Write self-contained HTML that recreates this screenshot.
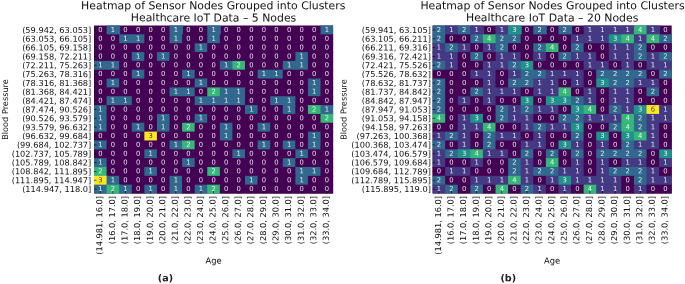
<!DOCTYPE html>
<html lang="en"><head><meta charset="utf-8"><title>Heatmap of Sensor Nodes Grouped into Clusters</title>
<style>html,body{margin:0;padding:0;background:#fff}body{width:685px;height:284px;overflow:hidden}svg{display:block;will-change:transform}text{font-family:"DejaVu Sans","Liberation Sans",sans-serif;fill:#111}.t{font-size:10.88px;text-anchor:middle}.k{font-size:8.23px}.y{text-anchor:end}.x{font-size:8.22px}.a{font-size:6.8px;text-anchor:middle;fill:#fff;fill-opacity:.86}.d{fill:#262626}.l{font-size:8.35px;text-anchor:middle}.bp{font-size:8.2px}.c{font-size:9.6px;font-weight:bold;text-anchor:middle;fill:#222}</style></head><body>
<svg width="685" height="284" viewBox="0 0 685 284">
<rect width="685" height="284" fill="#fff"/>
<g>
<text class="t" transform="translate(213.25 9.30) rotate(0.03)">Heatmap of Sensor Nodes Grouped into Clusters</text>
<text class="t" transform="translate(213.55 21.40) rotate(0.03)">Healthcare IoT Data – 5 Nodes</text>
<rect x="94.00" y="25.50" width="239.10" height="168.00" fill="#440154"/>
<rect x="106.58" y="25.50" width="13.58" height="9.84" fill="#31688e"/>
<rect x="169.51" y="25.50" width="13.58" height="9.84" fill="#31688e"/>
<rect x="207.26" y="25.50" width="13.58" height="9.84" fill="#31688e"/>
<rect x="320.52" y="25.50" width="12.58" height="9.84" fill="#31688e"/>
<rect x="94.00" y="34.34" width="26.17" height="9.84" fill="#440154"/>
<rect x="119.17" y="34.34" width="26.17" height="9.84" fill="#31688e"/>
<rect x="144.34" y="34.34" width="26.17" height="9.84" fill="#440154"/>
<rect x="169.51" y="34.34" width="13.58" height="9.84" fill="#31688e"/>
<rect x="182.09" y="34.34" width="26.17" height="9.84" fill="#440154"/>
<rect x="207.26" y="34.34" width="13.58" height="9.84" fill="#31688e"/>
<rect x="219.84" y="34.34" width="113.26" height="9.84" fill="#440154"/>
<rect x="94.00" y="43.18" width="101.67" height="9.84" fill="#440154"/>
<rect x="194.67" y="43.18" width="13.58" height="9.84" fill="#31688e"/>
<rect x="207.26" y="43.18" width="125.84" height="9.84" fill="#440154"/>
<rect x="94.00" y="52.03" width="38.75" height="9.84" fill="#440154"/>
<rect x="131.75" y="52.03" width="13.58" height="9.84" fill="#31688e"/>
<rect x="144.34" y="52.03" width="13.58" height="9.84" fill="#440154"/>
<rect x="156.92" y="52.03" width="13.58" height="9.84" fill="#31688e"/>
<rect x="169.51" y="52.03" width="126.84" height="9.84" fill="#440154"/>
<rect x="295.35" y="52.03" width="13.58" height="9.84" fill="#31688e"/>
<rect x="307.93" y="52.03" width="25.17" height="9.84" fill="#440154"/>
<rect x="94.00" y="60.87" width="26.17" height="9.84" fill="#31688e"/>
<rect x="119.17" y="60.87" width="101.67" height="9.84" fill="#440154"/>
<rect x="219.84" y="60.87" width="13.58" height="9.84" fill="#31688e"/>
<rect x="232.43" y="60.87" width="13.58" height="9.84" fill="#35b779"/>
<rect x="245.01" y="60.87" width="38.75" height="9.84" fill="#440154"/>
<rect x="282.76" y="60.87" width="26.17" height="9.84" fill="#31688e"/>
<rect x="307.93" y="60.87" width="25.17" height="9.84" fill="#440154"/>
<rect x="94.00" y="69.71" width="38.75" height="9.84" fill="#440154"/>
<rect x="131.75" y="69.71" width="13.58" height="9.84" fill="#31688e"/>
<rect x="144.34" y="69.71" width="38.75" height="9.84" fill="#440154"/>
<rect x="182.09" y="69.71" width="13.58" height="9.84" fill="#31688e"/>
<rect x="194.67" y="69.71" width="63.92" height="9.84" fill="#440154"/>
<rect x="257.59" y="69.71" width="26.17" height="9.84" fill="#31688e"/>
<rect x="282.76" y="69.71" width="50.34" height="9.84" fill="#440154"/>
<rect x="94.00" y="78.55" width="13.58" height="9.84" fill="#440154"/>
<rect x="106.58" y="78.55" width="13.58" height="9.84" fill="#31688e"/>
<rect x="119.17" y="78.55" width="76.51" height="9.84" fill="#440154"/>
<rect x="194.67" y="78.55" width="13.58" height="9.84" fill="#31688e"/>
<rect x="207.26" y="78.55" width="101.67" height="9.84" fill="#440154"/>
<rect x="307.93" y="78.55" width="13.58" height="9.84" fill="#31688e"/>
<rect x="320.52" y="78.55" width="12.58" height="9.84" fill="#440154"/>
<rect x="94.00" y="87.39" width="76.51" height="9.84" fill="#440154"/>
<rect x="169.51" y="87.39" width="26.17" height="9.84" fill="#31688e"/>
<rect x="194.67" y="87.39" width="13.58" height="9.84" fill="#440154"/>
<rect x="207.26" y="87.39" width="13.58" height="9.84" fill="#35b779"/>
<rect x="219.84" y="87.39" width="26.17" height="9.84" fill="#31688e"/>
<rect x="245.01" y="87.39" width="63.92" height="9.84" fill="#440154"/>
<rect x="307.93" y="87.39" width="13.58" height="9.84" fill="#31688e"/>
<rect x="320.52" y="87.39" width="12.58" height="9.84" fill="#440154"/>
<rect x="94.00" y="96.24" width="13.58" height="9.84" fill="#440154"/>
<rect x="106.58" y="96.24" width="26.17" height="9.84" fill="#31688e"/>
<rect x="131.75" y="96.24" width="63.92" height="9.84" fill="#440154"/>
<rect x="194.67" y="96.24" width="51.34" height="9.84" fill="#31688e"/>
<rect x="245.01" y="96.24" width="26.17" height="9.84" fill="#440154"/>
<rect x="270.18" y="96.24" width="26.17" height="9.84" fill="#31688e"/>
<rect x="295.35" y="96.24" width="37.75" height="9.84" fill="#440154"/>
<rect x="94.00" y="105.08" width="13.58" height="9.84" fill="#31688e"/>
<rect x="106.58" y="105.08" width="139.43" height="9.84" fill="#440154"/>
<rect x="245.01" y="105.08" width="13.58" height="9.84" fill="#31688e"/>
<rect x="257.59" y="105.08" width="26.17" height="9.84" fill="#440154"/>
<rect x="282.76" y="105.08" width="13.58" height="9.84" fill="#31688e"/>
<rect x="295.35" y="105.08" width="13.58" height="9.84" fill="#440154"/>
<rect x="307.93" y="105.08" width="13.58" height="9.84" fill="#35b779"/>
<rect x="320.52" y="105.08" width="12.58" height="9.84" fill="#31688e"/>
<rect x="94.00" y="113.92" width="13.58" height="9.84" fill="#31688e"/>
<rect x="106.58" y="113.92" width="51.34" height="9.84" fill="#440154"/>
<rect x="156.92" y="113.92" width="13.58" height="9.84" fill="#31688e"/>
<rect x="169.51" y="113.92" width="26.17" height="9.84" fill="#440154"/>
<rect x="194.67" y="113.92" width="13.58" height="9.84" fill="#31688e"/>
<rect x="207.26" y="113.92" width="114.26" height="9.84" fill="#440154"/>
<rect x="320.52" y="113.92" width="12.58" height="9.84" fill="#35b779"/>
<rect x="94.00" y="122.76" width="13.58" height="9.84" fill="#31688e"/>
<rect x="106.58" y="122.76" width="26.17" height="9.84" fill="#440154"/>
<rect x="131.75" y="122.76" width="13.58" height="9.84" fill="#31688e"/>
<rect x="144.34" y="122.76" width="13.58" height="9.84" fill="#440154"/>
<rect x="156.92" y="122.76" width="13.58" height="9.84" fill="#31688e"/>
<rect x="169.51" y="122.76" width="13.58" height="9.84" fill="#440154"/>
<rect x="182.09" y="122.76" width="13.58" height="9.84" fill="#35b779"/>
<rect x="194.67" y="122.76" width="26.17" height="9.84" fill="#440154"/>
<rect x="219.84" y="122.76" width="13.58" height="9.84" fill="#31688e"/>
<rect x="232.43" y="122.76" width="26.17" height="9.84" fill="#440154"/>
<rect x="257.59" y="122.76" width="13.58" height="9.84" fill="#31688e"/>
<rect x="270.18" y="122.76" width="62.92" height="9.84" fill="#440154"/>
<rect x="94.00" y="131.61" width="51.34" height="9.84" fill="#440154"/>
<rect x="144.34" y="131.61" width="13.58" height="9.84" fill="#fde725"/>
<rect x="156.92" y="131.61" width="63.92" height="9.84" fill="#440154"/>
<rect x="219.84" y="131.61" width="13.58" height="9.84" fill="#31688e"/>
<rect x="232.43" y="131.61" width="76.51" height="9.84" fill="#440154"/>
<rect x="307.93" y="131.61" width="13.58" height="9.84" fill="#31688e"/>
<rect x="320.52" y="131.61" width="12.58" height="9.84" fill="#440154"/>
<rect x="94.00" y="140.45" width="13.58" height="9.84" fill="#31688e"/>
<rect x="106.58" y="140.45" width="63.92" height="9.84" fill="#440154"/>
<rect x="169.51" y="140.45" width="13.58" height="9.84" fill="#31688e"/>
<rect x="182.09" y="140.45" width="13.58" height="9.84" fill="#35b779"/>
<rect x="194.67" y="140.45" width="63.92" height="9.84" fill="#440154"/>
<rect x="257.59" y="140.45" width="13.58" height="9.84" fill="#31688e"/>
<rect x="270.18" y="140.45" width="13.58" height="9.84" fill="#440154"/>
<rect x="282.76" y="140.45" width="13.58" height="9.84" fill="#31688e"/>
<rect x="295.35" y="140.45" width="13.58" height="9.84" fill="#440154"/>
<rect x="307.93" y="140.45" width="13.58" height="9.84" fill="#31688e"/>
<rect x="320.52" y="140.45" width="12.58" height="9.84" fill="#440154"/>
<rect x="94.00" y="149.29" width="51.34" height="9.84" fill="#440154"/>
<rect x="144.34" y="149.29" width="13.58" height="9.84" fill="#31688e"/>
<rect x="156.92" y="149.29" width="76.51" height="9.84" fill="#440154"/>
<rect x="232.43" y="149.29" width="13.58" height="9.84" fill="#31688e"/>
<rect x="245.01" y="149.29" width="51.34" height="9.84" fill="#440154"/>
<rect x="295.35" y="149.29" width="13.58" height="9.84" fill="#31688e"/>
<rect x="307.93" y="149.29" width="25.17" height="9.84" fill="#440154"/>
<rect x="94.00" y="158.13" width="13.58" height="9.84" fill="#31688e"/>
<rect x="106.58" y="158.13" width="76.51" height="9.84" fill="#440154"/>
<rect x="182.09" y="158.13" width="13.58" height="9.84" fill="#31688e"/>
<rect x="194.67" y="158.13" width="89.09" height="9.84" fill="#440154"/>
<rect x="282.76" y="158.13" width="13.58" height="9.84" fill="#31688e"/>
<rect x="295.35" y="158.13" width="37.75" height="9.84" fill="#440154"/>
<rect x="94.00" y="166.97" width="13.58" height="9.84" fill="#35b779"/>
<rect x="106.58" y="166.97" width="38.75" height="9.84" fill="#440154"/>
<rect x="144.34" y="166.97" width="13.58" height="9.84" fill="#31688e"/>
<rect x="156.92" y="166.97" width="51.34" height="9.84" fill="#440154"/>
<rect x="207.26" y="166.97" width="13.58" height="9.84" fill="#35b779"/>
<rect x="219.84" y="166.97" width="76.51" height="9.84" fill="#440154"/>
<rect x="295.35" y="166.97" width="26.17" height="9.84" fill="#31688e"/>
<rect x="320.52" y="166.97" width="12.58" height="9.84" fill="#440154"/>
<rect x="94.00" y="175.82" width="13.58" height="9.84" fill="#fde725"/>
<rect x="106.58" y="175.82" width="13.58" height="9.84" fill="#31688e"/>
<rect x="119.17" y="175.82" width="51.34" height="9.84" fill="#440154"/>
<rect x="169.51" y="175.82" width="13.58" height="9.84" fill="#31688e"/>
<rect x="182.09" y="175.82" width="63.92" height="9.84" fill="#440154"/>
<rect x="245.01" y="175.82" width="13.58" height="9.84" fill="#31688e"/>
<rect x="257.59" y="175.82" width="38.75" height="9.84" fill="#440154"/>
<rect x="295.35" y="175.82" width="13.58" height="9.84" fill="#31688e"/>
<rect x="307.93" y="175.82" width="25.17" height="9.84" fill="#440154"/>
<rect x="94.00" y="184.66" width="13.58" height="8.84" fill="#31688e"/>
<rect x="106.58" y="184.66" width="13.58" height="8.84" fill="#35b779"/>
<rect x="119.17" y="184.66" width="13.58" height="8.84" fill="#31688e"/>
<rect x="131.75" y="184.66" width="13.58" height="8.84" fill="#440154"/>
<rect x="144.34" y="184.66" width="13.58" height="8.84" fill="#31688e"/>
<rect x="156.92" y="184.66" width="13.58" height="8.84" fill="#440154"/>
<rect x="169.51" y="184.66" width="13.58" height="8.84" fill="#31688e"/>
<rect x="182.09" y="184.66" width="13.58" height="8.84" fill="#440154"/>
<rect x="194.67" y="184.66" width="13.58" height="8.84" fill="#31688e"/>
<rect x="207.26" y="184.66" width="13.58" height="8.84" fill="#35b779"/>
<rect x="219.84" y="184.66" width="113.26" height="8.84" fill="#440154"/>
<path d="M94.00 29.92h2.60M94.00 38.76h2.60M94.00 47.61h2.60M94.00 56.45h2.60M94.00 65.29h2.60M94.00 74.13h2.60M94.00 82.97h2.60M94.00 91.82h2.60M94.00 100.66h2.60M94.00 109.50h2.60M94.00 118.34h2.60M94.00 127.18h2.60M94.00 136.03h2.60M94.00 144.87h2.60M94.00 153.71h2.60M94.00 162.55h2.60M94.00 171.39h2.60M94.00 180.24h2.60M94.00 189.08h2.60M100.29 193.50v-2.60M112.88 193.50v-2.60M125.46 193.50v-2.60M138.04 193.50v-2.60M150.63 193.50v-2.60M163.21 193.50v-2.60M175.80 193.50v-2.60M188.38 193.50v-2.60M200.97 193.50v-2.60M213.55 193.50v-2.60M226.13 193.50v-2.60M238.72 193.50v-2.60M251.30 193.50v-2.60M263.89 193.50v-2.60M276.47 193.50v-2.60M289.06 193.50v-2.60M301.64 193.50v-2.60M314.22 193.50v-2.60M326.81 193.50v-2.60" stroke="#000" stroke-width="0.65" fill="none" opacity="0.90"/>
<text class="a" transform="translate(100.29 31.90) rotate(0.03)">0</text>
<text class="a" transform="translate(112.88 31.90) rotate(0.03)">1</text>
<text class="a" transform="translate(125.46 31.90) rotate(0.03)">0</text>
<text class="a" transform="translate(138.04 31.90) rotate(0.03)">0</text>
<text class="a" transform="translate(150.63 31.90) rotate(0.03)">0</text>
<text class="a" transform="translate(163.21 31.90) rotate(0.03)">0</text>
<text class="a" transform="translate(175.80 31.90) rotate(0.03)">1</text>
<text class="a" transform="translate(188.38 31.90) rotate(0.03)">0</text>
<text class="a" transform="translate(200.97 31.90) rotate(0.03)">0</text>
<text class="a" transform="translate(213.55 31.90) rotate(0.03)">1</text>
<text class="a" transform="translate(226.13 31.90) rotate(0.03)">0</text>
<text class="a" transform="translate(238.72 31.90) rotate(0.03)">0</text>
<text class="a" transform="translate(251.30 31.90) rotate(0.03)">0</text>
<text class="a" transform="translate(263.89 31.90) rotate(0.03)">0</text>
<text class="a" transform="translate(276.47 31.90) rotate(0.03)">0</text>
<text class="a" transform="translate(289.06 31.90) rotate(0.03)">0</text>
<text class="a" transform="translate(301.64 31.90) rotate(0.03)">0</text>
<text class="a" transform="translate(314.22 31.90) rotate(0.03)">0</text>
<text class="a" transform="translate(326.81 31.90) rotate(0.03)">1</text>
<text class="a" transform="translate(100.29 40.74) rotate(0.03)">0</text>
<text class="a" transform="translate(112.88 40.74) rotate(0.03)">0</text>
<text class="a" transform="translate(125.46 40.74) rotate(0.03)">1</text>
<text class="a" transform="translate(138.04 40.74) rotate(0.03)">1</text>
<text class="a" transform="translate(150.63 40.74) rotate(0.03)">0</text>
<text class="a" transform="translate(163.21 40.74) rotate(0.03)">0</text>
<text class="a" transform="translate(175.80 40.74) rotate(0.03)">1</text>
<text class="a" transform="translate(188.38 40.74) rotate(0.03)">0</text>
<text class="a" transform="translate(200.97 40.74) rotate(0.03)">0</text>
<text class="a" transform="translate(213.55 40.74) rotate(0.03)">1</text>
<text class="a" transform="translate(226.13 40.74) rotate(0.03)">0</text>
<text class="a" transform="translate(238.72 40.74) rotate(0.03)">0</text>
<text class="a" transform="translate(251.30 40.74) rotate(0.03)">0</text>
<text class="a" transform="translate(263.89 40.74) rotate(0.03)">0</text>
<text class="a" transform="translate(276.47 40.74) rotate(0.03)">0</text>
<text class="a" transform="translate(289.06 40.74) rotate(0.03)">0</text>
<text class="a" transform="translate(301.64 40.74) rotate(0.03)">0</text>
<text class="a" transform="translate(314.22 40.74) rotate(0.03)">0</text>
<text class="a" transform="translate(326.81 40.74) rotate(0.03)">0</text>
<text class="a" transform="translate(100.29 49.58) rotate(0.03)">0</text>
<text class="a" transform="translate(112.88 49.58) rotate(0.03)">0</text>
<text class="a" transform="translate(125.46 49.58) rotate(0.03)">0</text>
<text class="a" transform="translate(138.04 49.58) rotate(0.03)">0</text>
<text class="a" transform="translate(150.63 49.58) rotate(0.03)">0</text>
<text class="a" transform="translate(163.21 49.58) rotate(0.03)">0</text>
<text class="a" transform="translate(175.80 49.58) rotate(0.03)">0</text>
<text class="a" transform="translate(188.38 49.58) rotate(0.03)">0</text>
<text class="a" transform="translate(200.97 49.58) rotate(0.03)">1</text>
<text class="a" transform="translate(213.55 49.58) rotate(0.03)">0</text>
<text class="a" transform="translate(226.13 49.58) rotate(0.03)">0</text>
<text class="a" transform="translate(238.72 49.58) rotate(0.03)">0</text>
<text class="a" transform="translate(251.30 49.58) rotate(0.03)">0</text>
<text class="a" transform="translate(263.89 49.58) rotate(0.03)">0</text>
<text class="a" transform="translate(276.47 49.58) rotate(0.03)">0</text>
<text class="a" transform="translate(289.06 49.58) rotate(0.03)">0</text>
<text class="a" transform="translate(301.64 49.58) rotate(0.03)">0</text>
<text class="a" transform="translate(314.22 49.58) rotate(0.03)">0</text>
<text class="a" transform="translate(326.81 49.58) rotate(0.03)">0</text>
<text class="a" transform="translate(100.29 58.43) rotate(0.03)">0</text>
<text class="a" transform="translate(112.88 58.43) rotate(0.03)">0</text>
<text class="a" transform="translate(125.46 58.43) rotate(0.03)">0</text>
<text class="a" transform="translate(138.04 58.43) rotate(0.03)">1</text>
<text class="a" transform="translate(150.63 58.43) rotate(0.03)">0</text>
<text class="a" transform="translate(163.21 58.43) rotate(0.03)">1</text>
<text class="a" transform="translate(175.80 58.43) rotate(0.03)">0</text>
<text class="a" transform="translate(188.38 58.43) rotate(0.03)">0</text>
<text class="a" transform="translate(200.97 58.43) rotate(0.03)">0</text>
<text class="a" transform="translate(213.55 58.43) rotate(0.03)">0</text>
<text class="a" transform="translate(226.13 58.43) rotate(0.03)">0</text>
<text class="a" transform="translate(238.72 58.43) rotate(0.03)">0</text>
<text class="a" transform="translate(251.30 58.43) rotate(0.03)">0</text>
<text class="a" transform="translate(263.89 58.43) rotate(0.03)">0</text>
<text class="a" transform="translate(276.47 58.43) rotate(0.03)">0</text>
<text class="a" transform="translate(289.06 58.43) rotate(0.03)">0</text>
<text class="a" transform="translate(301.64 58.43) rotate(0.03)">1</text>
<text class="a" transform="translate(314.22 58.43) rotate(0.03)">0</text>
<text class="a" transform="translate(326.81 58.43) rotate(0.03)">0</text>
<text class="a" transform="translate(100.29 67.27) rotate(0.03)">1</text>
<text class="a" transform="translate(112.88 67.27) rotate(0.03)">1</text>
<text class="a" transform="translate(125.46 67.27) rotate(0.03)">0</text>
<text class="a" transform="translate(138.04 67.27) rotate(0.03)">0</text>
<text class="a" transform="translate(150.63 67.27) rotate(0.03)">0</text>
<text class="a" transform="translate(163.21 67.27) rotate(0.03)">0</text>
<text class="a" transform="translate(175.80 67.27) rotate(0.03)">0</text>
<text class="a" transform="translate(188.38 67.27) rotate(0.03)">0</text>
<text class="a" transform="translate(200.97 67.27) rotate(0.03)">0</text>
<text class="a" transform="translate(213.55 67.27) rotate(0.03)">0</text>
<text class="a" transform="translate(226.13 67.27) rotate(0.03)">1</text>
<text class="a" transform="translate(238.72 67.27) rotate(0.03)">2</text>
<text class="a" transform="translate(251.30 67.27) rotate(0.03)">0</text>
<text class="a" transform="translate(263.89 67.27) rotate(0.03)">0</text>
<text class="a" transform="translate(276.47 67.27) rotate(0.03)">0</text>
<text class="a" transform="translate(289.06 67.27) rotate(0.03)">1</text>
<text class="a" transform="translate(301.64 67.27) rotate(0.03)">1</text>
<text class="a" transform="translate(314.22 67.27) rotate(0.03)">0</text>
<text class="a" transform="translate(326.81 67.27) rotate(0.03)">0</text>
<text class="a" transform="translate(100.29 76.11) rotate(0.03)">0</text>
<text class="a" transform="translate(112.88 76.11) rotate(0.03)">0</text>
<text class="a" transform="translate(125.46 76.11) rotate(0.03)">0</text>
<text class="a" transform="translate(138.04 76.11) rotate(0.03)">1</text>
<text class="a" transform="translate(150.63 76.11) rotate(0.03)">0</text>
<text class="a" transform="translate(163.21 76.11) rotate(0.03)">0</text>
<text class="a" transform="translate(175.80 76.11) rotate(0.03)">0</text>
<text class="a" transform="translate(188.38 76.11) rotate(0.03)">1</text>
<text class="a" transform="translate(200.97 76.11) rotate(0.03)">0</text>
<text class="a" transform="translate(213.55 76.11) rotate(0.03)">0</text>
<text class="a" transform="translate(226.13 76.11) rotate(0.03)">0</text>
<text class="a" transform="translate(238.72 76.11) rotate(0.03)">0</text>
<text class="a" transform="translate(251.30 76.11) rotate(0.03)">0</text>
<text class="a" transform="translate(263.89 76.11) rotate(0.03)">1</text>
<text class="a" transform="translate(276.47 76.11) rotate(0.03)">1</text>
<text class="a" transform="translate(289.06 76.11) rotate(0.03)">0</text>
<text class="a" transform="translate(301.64 76.11) rotate(0.03)">0</text>
<text class="a" transform="translate(314.22 76.11) rotate(0.03)">0</text>
<text class="a" transform="translate(326.81 76.11) rotate(0.03)">0</text>
<text class="a" transform="translate(100.29 84.95) rotate(0.03)">0</text>
<text class="a" transform="translate(112.88 84.95) rotate(0.03)">1</text>
<text class="a" transform="translate(125.46 84.95) rotate(0.03)">0</text>
<text class="a" transform="translate(138.04 84.95) rotate(0.03)">0</text>
<text class="a" transform="translate(150.63 84.95) rotate(0.03)">0</text>
<text class="a" transform="translate(163.21 84.95) rotate(0.03)">0</text>
<text class="a" transform="translate(175.80 84.95) rotate(0.03)">0</text>
<text class="a" transform="translate(188.38 84.95) rotate(0.03)">0</text>
<text class="a" transform="translate(200.97 84.95) rotate(0.03)">1</text>
<text class="a" transform="translate(213.55 84.95) rotate(0.03)">0</text>
<text class="a" transform="translate(226.13 84.95) rotate(0.03)">0</text>
<text class="a" transform="translate(238.72 84.95) rotate(0.03)">0</text>
<text class="a" transform="translate(251.30 84.95) rotate(0.03)">0</text>
<text class="a" transform="translate(263.89 84.95) rotate(0.03)">0</text>
<text class="a" transform="translate(276.47 84.95) rotate(0.03)">0</text>
<text class="a" transform="translate(289.06 84.95) rotate(0.03)">0</text>
<text class="a" transform="translate(301.64 84.95) rotate(0.03)">0</text>
<text class="a" transform="translate(314.22 84.95) rotate(0.03)">1</text>
<text class="a" transform="translate(326.81 84.95) rotate(0.03)">0</text>
<text class="a" transform="translate(100.29 93.79) rotate(0.03)">0</text>
<text class="a" transform="translate(112.88 93.79) rotate(0.03)">0</text>
<text class="a" transform="translate(125.46 93.79) rotate(0.03)">0</text>
<text class="a" transform="translate(138.04 93.79) rotate(0.03)">0</text>
<text class="a" transform="translate(150.63 93.79) rotate(0.03)">0</text>
<text class="a" transform="translate(163.21 93.79) rotate(0.03)">0</text>
<text class="a" transform="translate(175.80 93.79) rotate(0.03)">1</text>
<text class="a" transform="translate(188.38 93.79) rotate(0.03)">1</text>
<text class="a" transform="translate(200.97 93.79) rotate(0.03)">0</text>
<text class="a" transform="translate(213.55 93.79) rotate(0.03)">2</text>
<text class="a" transform="translate(226.13 93.79) rotate(0.03)">1</text>
<text class="a" transform="translate(238.72 93.79) rotate(0.03)">1</text>
<text class="a" transform="translate(251.30 93.79) rotate(0.03)">0</text>
<text class="a" transform="translate(263.89 93.79) rotate(0.03)">0</text>
<text class="a" transform="translate(276.47 93.79) rotate(0.03)">0</text>
<text class="a" transform="translate(289.06 93.79) rotate(0.03)">0</text>
<text class="a" transform="translate(301.64 93.79) rotate(0.03)">0</text>
<text class="a" transform="translate(314.22 93.79) rotate(0.03)">1</text>
<text class="a" transform="translate(326.81 93.79) rotate(0.03)">0</text>
<text class="a" transform="translate(100.29 102.64) rotate(0.03)">0</text>
<text class="a" transform="translate(112.88 102.64) rotate(0.03)">1</text>
<text class="a" transform="translate(125.46 102.64) rotate(0.03)">1</text>
<text class="a" transform="translate(138.04 102.64) rotate(0.03)">0</text>
<text class="a" transform="translate(150.63 102.64) rotate(0.03)">0</text>
<text class="a" transform="translate(163.21 102.64) rotate(0.03)">0</text>
<text class="a" transform="translate(175.80 102.64) rotate(0.03)">0</text>
<text class="a" transform="translate(188.38 102.64) rotate(0.03)">0</text>
<text class="a" transform="translate(200.97 102.64) rotate(0.03)">1</text>
<text class="a" transform="translate(213.55 102.64) rotate(0.03)">1</text>
<text class="a" transform="translate(226.13 102.64) rotate(0.03)">1</text>
<text class="a" transform="translate(238.72 102.64) rotate(0.03)">1</text>
<text class="a" transform="translate(251.30 102.64) rotate(0.03)">0</text>
<text class="a" transform="translate(263.89 102.64) rotate(0.03)">0</text>
<text class="a" transform="translate(276.47 102.64) rotate(0.03)">1</text>
<text class="a" transform="translate(289.06 102.64) rotate(0.03)">1</text>
<text class="a" transform="translate(301.64 102.64) rotate(0.03)">0</text>
<text class="a" transform="translate(314.22 102.64) rotate(0.03)">0</text>
<text class="a" transform="translate(326.81 102.64) rotate(0.03)">0</text>
<text class="a" transform="translate(100.29 111.48) rotate(0.03)">1</text>
<text class="a" transform="translate(112.88 111.48) rotate(0.03)">0</text>
<text class="a" transform="translate(125.46 111.48) rotate(0.03)">0</text>
<text class="a" transform="translate(138.04 111.48) rotate(0.03)">0</text>
<text class="a" transform="translate(150.63 111.48) rotate(0.03)">0</text>
<text class="a" transform="translate(163.21 111.48) rotate(0.03)">0</text>
<text class="a" transform="translate(175.80 111.48) rotate(0.03)">0</text>
<text class="a" transform="translate(188.38 111.48) rotate(0.03)">0</text>
<text class="a" transform="translate(200.97 111.48) rotate(0.03)">0</text>
<text class="a" transform="translate(213.55 111.48) rotate(0.03)">0</text>
<text class="a" transform="translate(226.13 111.48) rotate(0.03)">0</text>
<text class="a" transform="translate(238.72 111.48) rotate(0.03)">0</text>
<text class="a" transform="translate(251.30 111.48) rotate(0.03)">1</text>
<text class="a" transform="translate(263.89 111.48) rotate(0.03)">0</text>
<text class="a" transform="translate(276.47 111.48) rotate(0.03)">0</text>
<text class="a" transform="translate(289.06 111.48) rotate(0.03)">1</text>
<text class="a" transform="translate(301.64 111.48) rotate(0.03)">0</text>
<text class="a" transform="translate(314.22 111.48) rotate(0.03)">2</text>
<text class="a" transform="translate(326.81 111.48) rotate(0.03)">1</text>
<text class="a" transform="translate(100.29 120.32) rotate(0.03)">1</text>
<text class="a" transform="translate(112.88 120.32) rotate(0.03)">0</text>
<text class="a" transform="translate(125.46 120.32) rotate(0.03)">0</text>
<text class="a" transform="translate(138.04 120.32) rotate(0.03)">0</text>
<text class="a" transform="translate(150.63 120.32) rotate(0.03)">0</text>
<text class="a" transform="translate(163.21 120.32) rotate(0.03)">1</text>
<text class="a" transform="translate(175.80 120.32) rotate(0.03)">0</text>
<text class="a" transform="translate(188.38 120.32) rotate(0.03)">0</text>
<text class="a" transform="translate(200.97 120.32) rotate(0.03)">1</text>
<text class="a" transform="translate(213.55 120.32) rotate(0.03)">0</text>
<text class="a" transform="translate(226.13 120.32) rotate(0.03)">0</text>
<text class="a" transform="translate(238.72 120.32) rotate(0.03)">0</text>
<text class="a" transform="translate(251.30 120.32) rotate(0.03)">0</text>
<text class="a" transform="translate(263.89 120.32) rotate(0.03)">0</text>
<text class="a" transform="translate(276.47 120.32) rotate(0.03)">0</text>
<text class="a" transform="translate(289.06 120.32) rotate(0.03)">0</text>
<text class="a" transform="translate(301.64 120.32) rotate(0.03)">0</text>
<text class="a" transform="translate(314.22 120.32) rotate(0.03)">0</text>
<text class="a" transform="translate(326.81 120.32) rotate(0.03)">2</text>
<text class="a" transform="translate(100.29 129.16) rotate(0.03)">1</text>
<text class="a" transform="translate(112.88 129.16) rotate(0.03)">0</text>
<text class="a" transform="translate(125.46 129.16) rotate(0.03)">0</text>
<text class="a" transform="translate(138.04 129.16) rotate(0.03)">1</text>
<text class="a" transform="translate(150.63 129.16) rotate(0.03)">0</text>
<text class="a" transform="translate(163.21 129.16) rotate(0.03)">1</text>
<text class="a" transform="translate(175.80 129.16) rotate(0.03)">0</text>
<text class="a" transform="translate(188.38 129.16) rotate(0.03)">2</text>
<text class="a" transform="translate(200.97 129.16) rotate(0.03)">0</text>
<text class="a" transform="translate(213.55 129.16) rotate(0.03)">0</text>
<text class="a" transform="translate(226.13 129.16) rotate(0.03)">1</text>
<text class="a" transform="translate(238.72 129.16) rotate(0.03)">0</text>
<text class="a" transform="translate(251.30 129.16) rotate(0.03)">0</text>
<text class="a" transform="translate(263.89 129.16) rotate(0.03)">1</text>
<text class="a" transform="translate(276.47 129.16) rotate(0.03)">0</text>
<text class="a" transform="translate(289.06 129.16) rotate(0.03)">0</text>
<text class="a" transform="translate(301.64 129.16) rotate(0.03)">0</text>
<text class="a" transform="translate(314.22 129.16) rotate(0.03)">0</text>
<text class="a" transform="translate(326.81 129.16) rotate(0.03)">0</text>
<text class="a" transform="translate(100.29 138.00) rotate(0.03)">0</text>
<text class="a" transform="translate(112.88 138.00) rotate(0.03)">0</text>
<text class="a" transform="translate(125.46 138.00) rotate(0.03)">0</text>
<text class="a" transform="translate(138.04 138.00) rotate(0.03)">0</text>
<text class="a d" transform="translate(150.63 138.00) rotate(0.03)">3</text>
<text class="a" transform="translate(163.21 138.00) rotate(0.03)">0</text>
<text class="a" transform="translate(175.80 138.00) rotate(0.03)">0</text>
<text class="a" transform="translate(188.38 138.00) rotate(0.03)">0</text>
<text class="a" transform="translate(200.97 138.00) rotate(0.03)">0</text>
<text class="a" transform="translate(213.55 138.00) rotate(0.03)">0</text>
<text class="a" transform="translate(226.13 138.00) rotate(0.03)">1</text>
<text class="a" transform="translate(238.72 138.00) rotate(0.03)">0</text>
<text class="a" transform="translate(251.30 138.00) rotate(0.03)">0</text>
<text class="a" transform="translate(263.89 138.00) rotate(0.03)">0</text>
<text class="a" transform="translate(276.47 138.00) rotate(0.03)">0</text>
<text class="a" transform="translate(289.06 138.00) rotate(0.03)">0</text>
<text class="a" transform="translate(301.64 138.00) rotate(0.03)">0</text>
<text class="a" transform="translate(314.22 138.00) rotate(0.03)">1</text>
<text class="a" transform="translate(326.81 138.00) rotate(0.03)">0</text>
<text class="a" transform="translate(100.29 146.85) rotate(0.03)">1</text>
<text class="a" transform="translate(112.88 146.85) rotate(0.03)">0</text>
<text class="a" transform="translate(125.46 146.85) rotate(0.03)">0</text>
<text class="a" transform="translate(138.04 146.85) rotate(0.03)">0</text>
<text class="a" transform="translate(150.63 146.85) rotate(0.03)">0</text>
<text class="a" transform="translate(163.21 146.85) rotate(0.03)">0</text>
<text class="a" transform="translate(175.80 146.85) rotate(0.03)">1</text>
<text class="a" transform="translate(188.38 146.85) rotate(0.03)">2</text>
<text class="a" transform="translate(200.97 146.85) rotate(0.03)">0</text>
<text class="a" transform="translate(213.55 146.85) rotate(0.03)">0</text>
<text class="a" transform="translate(226.13 146.85) rotate(0.03)">0</text>
<text class="a" transform="translate(238.72 146.85) rotate(0.03)">0</text>
<text class="a" transform="translate(251.30 146.85) rotate(0.03)">0</text>
<text class="a" transform="translate(263.89 146.85) rotate(0.03)">1</text>
<text class="a" transform="translate(276.47 146.85) rotate(0.03)">0</text>
<text class="a" transform="translate(289.06 146.85) rotate(0.03)">1</text>
<text class="a" transform="translate(301.64 146.85) rotate(0.03)">0</text>
<text class="a" transform="translate(314.22 146.85) rotate(0.03)">1</text>
<text class="a" transform="translate(326.81 146.85) rotate(0.03)">0</text>
<text class="a" transform="translate(100.29 155.69) rotate(0.03)">0</text>
<text class="a" transform="translate(112.88 155.69) rotate(0.03)">0</text>
<text class="a" transform="translate(125.46 155.69) rotate(0.03)">0</text>
<text class="a" transform="translate(138.04 155.69) rotate(0.03)">0</text>
<text class="a" transform="translate(150.63 155.69) rotate(0.03)">1</text>
<text class="a" transform="translate(163.21 155.69) rotate(0.03)">0</text>
<text class="a" transform="translate(175.80 155.69) rotate(0.03)">0</text>
<text class="a" transform="translate(188.38 155.69) rotate(0.03)">0</text>
<text class="a" transform="translate(200.97 155.69) rotate(0.03)">0</text>
<text class="a" transform="translate(213.55 155.69) rotate(0.03)">0</text>
<text class="a" transform="translate(226.13 155.69) rotate(0.03)">0</text>
<text class="a" transform="translate(238.72 155.69) rotate(0.03)">1</text>
<text class="a" transform="translate(251.30 155.69) rotate(0.03)">0</text>
<text class="a" transform="translate(263.89 155.69) rotate(0.03)">0</text>
<text class="a" transform="translate(276.47 155.69) rotate(0.03)">0</text>
<text class="a" transform="translate(289.06 155.69) rotate(0.03)">0</text>
<text class="a" transform="translate(301.64 155.69) rotate(0.03)">1</text>
<text class="a" transform="translate(314.22 155.69) rotate(0.03)">0</text>
<text class="a" transform="translate(326.81 155.69) rotate(0.03)">0</text>
<text class="a" transform="translate(100.29 164.53) rotate(0.03)">1</text>
<text class="a" transform="translate(112.88 164.53) rotate(0.03)">0</text>
<text class="a" transform="translate(125.46 164.53) rotate(0.03)">0</text>
<text class="a" transform="translate(138.04 164.53) rotate(0.03)">0</text>
<text class="a" transform="translate(150.63 164.53) rotate(0.03)">0</text>
<text class="a" transform="translate(163.21 164.53) rotate(0.03)">0</text>
<text class="a" transform="translate(175.80 164.53) rotate(0.03)">0</text>
<text class="a" transform="translate(188.38 164.53) rotate(0.03)">1</text>
<text class="a" transform="translate(200.97 164.53) rotate(0.03)">0</text>
<text class="a" transform="translate(213.55 164.53) rotate(0.03)">0</text>
<text class="a" transform="translate(226.13 164.53) rotate(0.03)">0</text>
<text class="a" transform="translate(238.72 164.53) rotate(0.03)">0</text>
<text class="a" transform="translate(251.30 164.53) rotate(0.03)">0</text>
<text class="a" transform="translate(263.89 164.53) rotate(0.03)">0</text>
<text class="a" transform="translate(276.47 164.53) rotate(0.03)">0</text>
<text class="a" transform="translate(289.06 164.53) rotate(0.03)">1</text>
<text class="a" transform="translate(301.64 164.53) rotate(0.03)">0</text>
<text class="a" transform="translate(314.22 164.53) rotate(0.03)">0</text>
<text class="a" transform="translate(326.81 164.53) rotate(0.03)">0</text>
<text class="a" transform="translate(100.29 173.37) rotate(0.03)">2</text>
<text class="a" transform="translate(112.88 173.37) rotate(0.03)">0</text>
<text class="a" transform="translate(125.46 173.37) rotate(0.03)">0</text>
<text class="a" transform="translate(138.04 173.37) rotate(0.03)">0</text>
<text class="a" transform="translate(150.63 173.37) rotate(0.03)">1</text>
<text class="a" transform="translate(163.21 173.37) rotate(0.03)">0</text>
<text class="a" transform="translate(175.80 173.37) rotate(0.03)">0</text>
<text class="a" transform="translate(188.38 173.37) rotate(0.03)">0</text>
<text class="a" transform="translate(200.97 173.37) rotate(0.03)">0</text>
<text class="a" transform="translate(213.55 173.37) rotate(0.03)">2</text>
<text class="a" transform="translate(226.13 173.37) rotate(0.03)">0</text>
<text class="a" transform="translate(238.72 173.37) rotate(0.03)">0</text>
<text class="a" transform="translate(251.30 173.37) rotate(0.03)">0</text>
<text class="a" transform="translate(263.89 173.37) rotate(0.03)">0</text>
<text class="a" transform="translate(276.47 173.37) rotate(0.03)">0</text>
<text class="a" transform="translate(289.06 173.37) rotate(0.03)">0</text>
<text class="a" transform="translate(301.64 173.37) rotate(0.03)">1</text>
<text class="a" transform="translate(314.22 173.37) rotate(0.03)">1</text>
<text class="a" transform="translate(326.81 173.37) rotate(0.03)">0</text>
<text class="a d" transform="translate(100.29 182.22) rotate(0.03)">3</text>
<text class="a" transform="translate(112.88 182.22) rotate(0.03)">1</text>
<text class="a" transform="translate(125.46 182.22) rotate(0.03)">0</text>
<text class="a" transform="translate(138.04 182.22) rotate(0.03)">0</text>
<text class="a" transform="translate(150.63 182.22) rotate(0.03)">0</text>
<text class="a" transform="translate(163.21 182.22) rotate(0.03)">0</text>
<text class="a" transform="translate(175.80 182.22) rotate(0.03)">1</text>
<text class="a" transform="translate(188.38 182.22) rotate(0.03)">0</text>
<text class="a" transform="translate(200.97 182.22) rotate(0.03)">0</text>
<text class="a" transform="translate(213.55 182.22) rotate(0.03)">0</text>
<text class="a" transform="translate(226.13 182.22) rotate(0.03)">0</text>
<text class="a" transform="translate(238.72 182.22) rotate(0.03)">0</text>
<text class="a" transform="translate(251.30 182.22) rotate(0.03)">1</text>
<text class="a" transform="translate(263.89 182.22) rotate(0.03)">0</text>
<text class="a" transform="translate(276.47 182.22) rotate(0.03)">0</text>
<text class="a" transform="translate(289.06 182.22) rotate(0.03)">0</text>
<text class="a" transform="translate(301.64 182.22) rotate(0.03)">1</text>
<text class="a" transform="translate(314.22 182.22) rotate(0.03)">0</text>
<text class="a" transform="translate(326.81 182.22) rotate(0.03)">0</text>
<text class="a" transform="translate(100.29 191.06) rotate(0.03)">1</text>
<text class="a" transform="translate(112.88 191.06) rotate(0.03)">2</text>
<text class="a" transform="translate(125.46 191.06) rotate(0.03)">1</text>
<text class="a" transform="translate(138.04 191.06) rotate(0.03)">0</text>
<text class="a" transform="translate(150.63 191.06) rotate(0.03)">1</text>
<text class="a" transform="translate(163.21 191.06) rotate(0.03)">0</text>
<text class="a" transform="translate(175.80 191.06) rotate(0.03)">1</text>
<text class="a" transform="translate(188.38 191.06) rotate(0.03)">0</text>
<text class="a" transform="translate(200.97 191.06) rotate(0.03)">1</text>
<text class="a" transform="translate(213.55 191.06) rotate(0.03)">2</text>
<text class="a" transform="translate(226.13 191.06) rotate(0.03)">0</text>
<text class="a" transform="translate(238.72 191.06) rotate(0.03)">0</text>
<text class="a" transform="translate(251.30 191.06) rotate(0.03)">0</text>
<text class="a" transform="translate(263.89 191.06) rotate(0.03)">0</text>
<text class="a" transform="translate(276.47 191.06) rotate(0.03)">0</text>
<text class="a" transform="translate(289.06 191.06) rotate(0.03)">0</text>
<text class="a" transform="translate(301.64 191.06) rotate(0.03)">0</text>
<text class="a" transform="translate(314.22 191.06) rotate(0.03)">0</text>
<text class="a" transform="translate(326.81 191.06) rotate(0.03)">0</text>
<text class="k y" transform="translate(91.30 32.92) rotate(0.03)">(59.942, 63.053]</text>
<text class="k y" transform="translate(91.30 41.76) rotate(0.03)">(63.053, 66.105]</text>
<text class="k y" transform="translate(91.30 50.61) rotate(0.03)">(66.105, 69.158]</text>
<text class="k y" transform="translate(91.30 59.45) rotate(0.03)">(69.158, 72.211]</text>
<text class="k y" transform="translate(91.30 68.29) rotate(0.03)">(72.211, 75.263]</text>
<text class="k y" transform="translate(91.30 77.13) rotate(0.03)">(75.263, 78.316]</text>
<text class="k y" transform="translate(91.30 85.97) rotate(0.03)">(78.316, 81.368]</text>
<text class="k y" transform="translate(91.30 94.82) rotate(0.03)">(81.368, 84.421]</text>
<text class="k y" transform="translate(91.30 103.66) rotate(0.03)">(84.421, 87.474]</text>
<text class="k y" transform="translate(91.30 112.50) rotate(0.03)">(87.474, 90.526]</text>
<text class="k y" transform="translate(91.30 121.34) rotate(0.03)">(90.526, 93.579]</text>
<text class="k y" transform="translate(91.30 130.18) rotate(0.03)">(93.579, 96.632]</text>
<text class="k y" transform="translate(91.30 139.03) rotate(0.03)">(96.632, 99.684]</text>
<text class="k y" transform="translate(91.30 147.87) rotate(0.03)">(99.684, 102.737]</text>
<text class="k y" transform="translate(91.30 156.71) rotate(0.03)">(102.737, 105.789]</text>
<text class="k y" transform="translate(91.30 165.55) rotate(0.03)">(105.789, 108.842]</text>
<text class="k y" transform="translate(91.30 174.39) rotate(0.03)">(108.842, 111.895]</text>
<text class="k y" transform="translate(91.30 183.24) rotate(0.03)">(111.895, 114.947]</text>
<text class="k y" transform="translate(91.30 192.08) rotate(0.03)">(114.947, 118.0]</text>
<text class="k y x" transform="translate(102.34 196.00) rotate(-89.97)">(14.981, 16.0]</text>
<text class="k y x" transform="translate(114.92 196.00) rotate(-89.97)">(16.0, 17.0]</text>
<text class="k y x" transform="translate(127.51 196.00) rotate(-89.97)">(17.0, 18.0]</text>
<text class="k y x" transform="translate(140.09 196.00) rotate(-89.97)">(18.0, 19.0]</text>
<text class="k y x" transform="translate(152.68 196.00) rotate(-89.97)">(19.0, 20.0]</text>
<text class="k y x" transform="translate(165.26 196.00) rotate(-89.97)">(20.0, 21.0]</text>
<text class="k y x" transform="translate(177.84 196.00) rotate(-89.97)">(21.0, 22.0]</text>
<text class="k y x" transform="translate(190.43 196.00) rotate(-89.97)">(22.0, 23.0]</text>
<text class="k y x" transform="translate(203.01 196.00) rotate(-89.97)">(23.0, 24.0]</text>
<text class="k y x" transform="translate(215.60 196.00) rotate(-89.97)">(24.0, 25.0]</text>
<text class="k y x" transform="translate(228.18 196.00) rotate(-89.97)">(25.0, 26.0]</text>
<text class="k y x" transform="translate(240.76 196.00) rotate(-89.97)">(26.0, 27.0]</text>
<text class="k y x" transform="translate(253.35 196.00) rotate(-89.97)">(27.0, 28.0]</text>
<text class="k y x" transform="translate(265.93 196.00) rotate(-89.97)">(28.0, 29.0]</text>
<text class="k y x" transform="translate(278.52 196.00) rotate(-89.97)">(29.0, 30.0]</text>
<text class="k y x" transform="translate(291.10 196.00) rotate(-89.97)">(30.0, 31.0]</text>
<text class="k y x" transform="translate(303.69 196.00) rotate(-89.97)">(31.0, 32.0]</text>
<text class="k y x" transform="translate(316.27 196.00) rotate(-89.97)">(32.0, 33.0]</text>
<text class="k y x" transform="translate(328.85 196.00) rotate(-89.97)">(33.0, 34.0]</text>
<text class="l" transform="translate(213.55 263.60) rotate(0.03)">Age</text>
<text class="l bp" transform="translate(7.90 109.50) rotate(-89.97)">Blood Pressure</text>
<text class="c" transform="translate(165.40 281.30) rotate(0.03)">(a)</text>
</g>
<g>
<text class="t" transform="translate(552.55 9.30) rotate(0.03)">Heatmap of Sensor Nodes Grouped into Clusters</text>
<text class="t" transform="translate(552.15 21.40) rotate(0.03)">Healthcare IoT Data – 20 Nodes</text>
<rect x="432.60" y="25.50" width="239.10" height="168.00" fill="#440154"/>
<rect x="432.60" y="25.50" width="13.58" height="9.84" fill="#31688e"/>
<rect x="445.18" y="25.50" width="13.58" height="9.84" fill="#443983"/>
<rect x="457.77" y="25.50" width="13.58" height="9.84" fill="#31688e"/>
<rect x="470.35" y="25.50" width="13.58" height="9.84" fill="#443983"/>
<rect x="495.52" y="25.50" width="13.58" height="9.84" fill="#443983"/>
<rect x="508.11" y="25.50" width="13.58" height="9.84" fill="#21918c"/>
<rect x="533.27" y="25.50" width="13.58" height="9.84" fill="#31688e"/>
<rect x="558.44" y="25.50" width="13.58" height="9.84" fill="#31688e"/>
<rect x="583.61" y="25.50" width="51.34" height="9.84" fill="#443983"/>
<rect x="633.95" y="25.50" width="13.58" height="9.84" fill="#35b779"/>
<rect x="646.53" y="25.50" width="13.58" height="9.84" fill="#443983"/>
<rect x="432.60" y="34.34" width="13.58" height="9.84" fill="#31688e"/>
<rect x="445.18" y="34.34" width="26.17" height="9.84" fill="#440154"/>
<rect x="470.35" y="34.34" width="13.58" height="9.84" fill="#31688e"/>
<rect x="482.94" y="34.34" width="13.58" height="9.84" fill="#35b779"/>
<rect x="495.52" y="34.34" width="26.17" height="9.84" fill="#31688e"/>
<rect x="520.69" y="34.34" width="51.34" height="9.84" fill="#440154"/>
<rect x="571.03" y="34.34" width="38.75" height="9.84" fill="#443983"/>
<rect x="608.78" y="34.34" width="13.58" height="9.84" fill="#21918c"/>
<rect x="621.36" y="34.34" width="13.58" height="9.84" fill="#35b779"/>
<rect x="633.95" y="34.34" width="13.58" height="9.84" fill="#443983"/>
<rect x="646.53" y="34.34" width="13.58" height="9.84" fill="#35b779"/>
<rect x="659.12" y="34.34" width="12.58" height="9.84" fill="#31688e"/>
<rect x="432.60" y="43.18" width="13.58" height="9.84" fill="#443983"/>
<rect x="445.18" y="43.18" width="13.58" height="9.84" fill="#31688e"/>
<rect x="457.77" y="43.18" width="13.58" height="9.84" fill="#443983"/>
<rect x="470.35" y="43.18" width="13.58" height="9.84" fill="#440154"/>
<rect x="482.94" y="43.18" width="13.58" height="9.84" fill="#443983"/>
<rect x="495.52" y="43.18" width="13.58" height="9.84" fill="#31688e"/>
<rect x="508.11" y="43.18" width="26.17" height="9.84" fill="#440154"/>
<rect x="533.27" y="43.18" width="13.58" height="9.84" fill="#31688e"/>
<rect x="545.86" y="43.18" width="13.58" height="9.84" fill="#35b779"/>
<rect x="558.44" y="43.18" width="13.58" height="9.84" fill="#440154"/>
<rect x="571.03" y="43.18" width="13.58" height="9.84" fill="#31688e"/>
<rect x="583.61" y="43.18" width="26.17" height="9.84" fill="#440154"/>
<rect x="608.78" y="43.18" width="26.17" height="9.84" fill="#443983"/>
<rect x="633.95" y="43.18" width="13.58" height="9.84" fill="#31688e"/>
<rect x="646.53" y="43.18" width="25.17" height="9.84" fill="#440154"/>
<rect x="432.60" y="52.03" width="26.17" height="9.84" fill="#443983"/>
<rect x="457.77" y="52.03" width="13.58" height="9.84" fill="#440154"/>
<rect x="470.35" y="52.03" width="13.58" height="9.84" fill="#31688e"/>
<rect x="482.94" y="52.03" width="13.58" height="9.84" fill="#440154"/>
<rect x="495.52" y="52.03" width="26.17" height="9.84" fill="#443983"/>
<rect x="520.69" y="52.03" width="13.58" height="9.84" fill="#440154"/>
<rect x="533.27" y="52.03" width="13.58" height="9.84" fill="#443983"/>
<rect x="545.86" y="52.03" width="13.58" height="9.84" fill="#440154"/>
<rect x="558.44" y="52.03" width="13.58" height="9.84" fill="#31688e"/>
<rect x="571.03" y="52.03" width="26.17" height="9.84" fill="#443983"/>
<rect x="596.19" y="52.03" width="13.58" height="9.84" fill="#440154"/>
<rect x="608.78" y="52.03" width="26.17" height="9.84" fill="#443983"/>
<rect x="633.95" y="52.03" width="13.58" height="9.84" fill="#31688e"/>
<rect x="646.53" y="52.03" width="13.58" height="9.84" fill="#443983"/>
<rect x="659.12" y="52.03" width="12.58" height="9.84" fill="#31688e"/>
<rect x="432.60" y="60.87" width="13.58" height="9.84" fill="#31688e"/>
<rect x="445.18" y="60.87" width="13.58" height="9.84" fill="#443983"/>
<rect x="457.77" y="60.87" width="26.17" height="9.84" fill="#440154"/>
<rect x="482.94" y="60.87" width="26.17" height="9.84" fill="#443983"/>
<rect x="508.11" y="60.87" width="13.58" height="9.84" fill="#31688e"/>
<rect x="520.69" y="60.87" width="13.58" height="9.84" fill="#21918c"/>
<rect x="533.27" y="60.87" width="51.34" height="9.84" fill="#440154"/>
<rect x="583.61" y="60.87" width="26.17" height="9.84" fill="#443983"/>
<rect x="608.78" y="60.87" width="13.58" height="9.84" fill="#440154"/>
<rect x="621.36" y="60.87" width="13.58" height="9.84" fill="#443983"/>
<rect x="633.95" y="60.87" width="13.58" height="9.84" fill="#440154"/>
<rect x="646.53" y="60.87" width="25.17" height="9.84" fill="#443983"/>
<rect x="432.60" y="69.71" width="38.75" height="9.84" fill="#440154"/>
<rect x="470.35" y="69.71" width="26.17" height="9.84" fill="#443983"/>
<rect x="495.52" y="69.71" width="13.58" height="9.84" fill="#440154"/>
<rect x="508.11" y="69.71" width="13.58" height="9.84" fill="#443983"/>
<rect x="520.69" y="69.71" width="26.17" height="9.84" fill="#31688e"/>
<rect x="545.86" y="69.71" width="38.75" height="9.84" fill="#443983"/>
<rect x="583.61" y="69.71" width="13.58" height="9.84" fill="#440154"/>
<rect x="596.19" y="69.71" width="51.34" height="9.84" fill="#31688e"/>
<rect x="646.53" y="69.71" width="13.58" height="9.84" fill="#440154"/>
<rect x="659.12" y="69.71" width="12.58" height="9.84" fill="#31688e"/>
<rect x="432.60" y="78.55" width="13.58" height="9.84" fill="#31688e"/>
<rect x="445.18" y="78.55" width="38.75" height="9.84" fill="#440154"/>
<rect x="482.94" y="78.55" width="13.58" height="9.84" fill="#443983"/>
<rect x="495.52" y="78.55" width="13.58" height="9.84" fill="#440154"/>
<rect x="508.11" y="78.55" width="26.17" height="9.84" fill="#31688e"/>
<rect x="533.27" y="78.55" width="26.17" height="9.84" fill="#443983"/>
<rect x="558.44" y="78.55" width="13.58" height="9.84" fill="#440154"/>
<rect x="571.03" y="78.55" width="13.58" height="9.84" fill="#443983"/>
<rect x="583.61" y="78.55" width="13.58" height="9.84" fill="#440154"/>
<rect x="596.19" y="78.55" width="13.58" height="9.84" fill="#21918c"/>
<rect x="608.78" y="78.55" width="26.17" height="9.84" fill="#31688e"/>
<rect x="633.95" y="78.55" width="26.17" height="9.84" fill="#443983"/>
<rect x="659.12" y="78.55" width="12.58" height="9.84" fill="#440154"/>
<rect x="432.60" y="87.39" width="13.58" height="9.84" fill="#31688e"/>
<rect x="445.18" y="87.39" width="26.17" height="9.84" fill="#440154"/>
<rect x="470.35" y="87.39" width="13.58" height="9.84" fill="#31688e"/>
<rect x="482.94" y="87.39" width="38.75" height="9.84" fill="#443983"/>
<rect x="520.69" y="87.39" width="13.58" height="9.84" fill="#440154"/>
<rect x="533.27" y="87.39" width="26.17" height="9.84" fill="#443983"/>
<rect x="558.44" y="87.39" width="13.58" height="9.84" fill="#35b779"/>
<rect x="571.03" y="87.39" width="13.58" height="9.84" fill="#440154"/>
<rect x="583.61" y="87.39" width="13.58" height="9.84" fill="#443983"/>
<rect x="596.19" y="87.39" width="13.58" height="9.84" fill="#440154"/>
<rect x="608.78" y="87.39" width="26.17" height="9.84" fill="#443983"/>
<rect x="633.95" y="87.39" width="13.58" height="9.84" fill="#440154"/>
<rect x="646.53" y="87.39" width="13.58" height="9.84" fill="#31688e"/>
<rect x="659.12" y="87.39" width="12.58" height="9.84" fill="#440154"/>
<rect x="432.60" y="96.24" width="13.58" height="9.84" fill="#31688e"/>
<rect x="445.18" y="96.24" width="13.58" height="9.84" fill="#440154"/>
<rect x="457.77" y="96.24" width="13.58" height="9.84" fill="#443983"/>
<rect x="470.35" y="96.24" width="13.58" height="9.84" fill="#440154"/>
<rect x="482.94" y="96.24" width="13.58" height="9.84" fill="#443983"/>
<rect x="495.52" y="96.24" width="26.17" height="9.84" fill="#440154"/>
<rect x="520.69" y="96.24" width="13.58" height="9.84" fill="#21918c"/>
<rect x="533.27" y="96.24" width="13.58" height="9.84" fill="#440154"/>
<rect x="545.86" y="96.24" width="26.17" height="9.84" fill="#21918c"/>
<rect x="571.03" y="96.24" width="13.58" height="9.84" fill="#31688e"/>
<rect x="583.61" y="96.24" width="13.58" height="9.84" fill="#443983"/>
<rect x="596.19" y="96.24" width="13.58" height="9.84" fill="#440154"/>
<rect x="608.78" y="96.24" width="26.17" height="9.84" fill="#443983"/>
<rect x="633.95" y="96.24" width="37.75" height="9.84" fill="#440154"/>
<rect x="432.60" y="105.08" width="13.58" height="9.84" fill="#31688e"/>
<rect x="445.18" y="105.08" width="51.34" height="9.84" fill="#440154"/>
<rect x="495.52" y="105.08" width="13.58" height="9.84" fill="#31688e"/>
<rect x="508.11" y="105.08" width="13.58" height="9.84" fill="#443983"/>
<rect x="520.69" y="105.08" width="13.58" height="9.84" fill="#31688e"/>
<rect x="533.27" y="105.08" width="26.17" height="9.84" fill="#443983"/>
<rect x="558.44" y="105.08" width="13.58" height="9.84" fill="#440154"/>
<rect x="571.03" y="105.08" width="13.58" height="9.84" fill="#21918c"/>
<rect x="583.61" y="105.08" width="13.58" height="9.84" fill="#35b779"/>
<rect x="596.19" y="105.08" width="13.58" height="9.84" fill="#440154"/>
<rect x="608.78" y="105.08" width="13.58" height="9.84" fill="#31688e"/>
<rect x="621.36" y="105.08" width="13.58" height="9.84" fill="#443983"/>
<rect x="633.95" y="105.08" width="13.58" height="9.84" fill="#21918c"/>
<rect x="646.53" y="105.08" width="13.58" height="9.84" fill="#fde725"/>
<rect x="659.12" y="105.08" width="12.58" height="9.84" fill="#443983"/>
<rect x="432.60" y="113.92" width="13.58" height="9.84" fill="#35b779"/>
<rect x="445.18" y="113.92" width="13.58" height="9.84" fill="#440154"/>
<rect x="457.77" y="113.92" width="13.58" height="9.84" fill="#443983"/>
<rect x="470.35" y="113.92" width="13.58" height="9.84" fill="#21918c"/>
<rect x="482.94" y="113.92" width="13.58" height="9.84" fill="#440154"/>
<rect x="495.52" y="113.92" width="13.58" height="9.84" fill="#31688e"/>
<rect x="508.11" y="113.92" width="26.17" height="9.84" fill="#443983"/>
<rect x="533.27" y="113.92" width="26.17" height="9.84" fill="#440154"/>
<rect x="558.44" y="113.92" width="26.17" height="9.84" fill="#31688e"/>
<rect x="583.61" y="113.92" width="38.75" height="9.84" fill="#443983"/>
<rect x="621.36" y="113.92" width="13.58" height="9.84" fill="#35b779"/>
<rect x="633.95" y="113.92" width="13.58" height="9.84" fill="#31688e"/>
<rect x="646.53" y="113.92" width="25.17" height="9.84" fill="#443983"/>
<rect x="432.60" y="122.76" width="26.17" height="9.84" fill="#440154"/>
<rect x="457.77" y="122.76" width="26.17" height="9.84" fill="#443983"/>
<rect x="482.94" y="122.76" width="13.58" height="9.84" fill="#35b779"/>
<rect x="495.52" y="122.76" width="26.17" height="9.84" fill="#440154"/>
<rect x="520.69" y="122.76" width="13.58" height="9.84" fill="#443983"/>
<rect x="533.27" y="122.76" width="13.58" height="9.84" fill="#31688e"/>
<rect x="545.86" y="122.76" width="26.17" height="9.84" fill="#443983"/>
<rect x="571.03" y="122.76" width="13.58" height="9.84" fill="#21918c"/>
<rect x="583.61" y="122.76" width="26.17" height="9.84" fill="#440154"/>
<rect x="608.78" y="122.76" width="13.58" height="9.84" fill="#31688e"/>
<rect x="621.36" y="122.76" width="13.58" height="9.84" fill="#35b779"/>
<rect x="633.95" y="122.76" width="13.58" height="9.84" fill="#31688e"/>
<rect x="646.53" y="122.76" width="13.58" height="9.84" fill="#443983"/>
<rect x="659.12" y="122.76" width="12.58" height="9.84" fill="#440154"/>
<rect x="432.60" y="131.61" width="13.58" height="9.84" fill="#443983"/>
<rect x="445.18" y="131.61" width="13.58" height="9.84" fill="#31688e"/>
<rect x="457.77" y="131.61" width="13.58" height="9.84" fill="#443983"/>
<rect x="470.35" y="131.61" width="13.58" height="9.84" fill="#440154"/>
<rect x="482.94" y="131.61" width="13.58" height="9.84" fill="#31688e"/>
<rect x="495.52" y="131.61" width="26.17" height="9.84" fill="#443983"/>
<rect x="520.69" y="131.61" width="13.58" height="9.84" fill="#440154"/>
<rect x="533.27" y="131.61" width="13.58" height="9.84" fill="#443983"/>
<rect x="545.86" y="131.61" width="26.17" height="9.84" fill="#440154"/>
<rect x="571.03" y="131.61" width="13.58" height="9.84" fill="#31688e"/>
<rect x="583.61" y="131.61" width="13.58" height="9.84" fill="#440154"/>
<rect x="596.19" y="131.61" width="13.58" height="9.84" fill="#21918c"/>
<rect x="608.78" y="131.61" width="13.58" height="9.84" fill="#440154"/>
<rect x="621.36" y="131.61" width="13.58" height="9.84" fill="#21918c"/>
<rect x="633.95" y="131.61" width="13.58" height="9.84" fill="#35b779"/>
<rect x="646.53" y="131.61" width="13.58" height="9.84" fill="#443983"/>
<rect x="659.12" y="131.61" width="12.58" height="9.84" fill="#440154"/>
<rect x="432.60" y="140.45" width="13.58" height="9.84" fill="#31688e"/>
<rect x="445.18" y="140.45" width="13.58" height="9.84" fill="#440154"/>
<rect x="457.77" y="140.45" width="13.58" height="9.84" fill="#443983"/>
<rect x="470.35" y="140.45" width="13.58" height="9.84" fill="#440154"/>
<rect x="482.94" y="140.45" width="13.58" height="9.84" fill="#31688e"/>
<rect x="495.52" y="140.45" width="26.17" height="9.84" fill="#440154"/>
<rect x="520.69" y="140.45" width="26.17" height="9.84" fill="#443983"/>
<rect x="545.86" y="140.45" width="13.58" height="9.84" fill="#440154"/>
<rect x="558.44" y="140.45" width="13.58" height="9.84" fill="#21918c"/>
<rect x="571.03" y="140.45" width="13.58" height="9.84" fill="#443983"/>
<rect x="583.61" y="140.45" width="13.58" height="9.84" fill="#440154"/>
<rect x="596.19" y="140.45" width="13.58" height="9.84" fill="#443983"/>
<rect x="608.78" y="140.45" width="13.58" height="9.84" fill="#440154"/>
<rect x="621.36" y="140.45" width="13.58" height="9.84" fill="#31688e"/>
<rect x="633.95" y="140.45" width="26.17" height="9.84" fill="#443983"/>
<rect x="659.12" y="140.45" width="12.58" height="9.84" fill="#440154"/>
<rect x="432.60" y="149.29" width="13.58" height="9.84" fill="#443983"/>
<rect x="445.18" y="149.29" width="13.58" height="9.84" fill="#31688e"/>
<rect x="457.77" y="149.29" width="13.58" height="9.84" fill="#21918c"/>
<rect x="470.35" y="149.29" width="13.58" height="9.84" fill="#35b779"/>
<rect x="482.94" y="149.29" width="26.17" height="9.84" fill="#443983"/>
<rect x="508.11" y="149.29" width="13.58" height="9.84" fill="#440154"/>
<rect x="520.69" y="149.29" width="13.58" height="9.84" fill="#31688e"/>
<rect x="533.27" y="149.29" width="13.58" height="9.84" fill="#440154"/>
<rect x="545.86" y="149.29" width="13.58" height="9.84" fill="#31688e"/>
<rect x="558.44" y="149.29" width="13.58" height="9.84" fill="#440154"/>
<rect x="571.03" y="149.29" width="13.58" height="9.84" fill="#31688e"/>
<rect x="583.61" y="149.29" width="13.58" height="9.84" fill="#440154"/>
<rect x="596.19" y="149.29" width="51.34" height="9.84" fill="#31688e"/>
<rect x="646.53" y="149.29" width="13.58" height="9.84" fill="#440154"/>
<rect x="659.12" y="149.29" width="12.58" height="9.84" fill="#21918c"/>
<rect x="432.60" y="158.13" width="13.58" height="9.84" fill="#443983"/>
<rect x="445.18" y="158.13" width="26.17" height="9.84" fill="#440154"/>
<rect x="470.35" y="158.13" width="13.58" height="9.84" fill="#443983"/>
<rect x="482.94" y="158.13" width="26.17" height="9.84" fill="#440154"/>
<rect x="508.11" y="158.13" width="13.58" height="9.84" fill="#31688e"/>
<rect x="520.69" y="158.13" width="13.58" height="9.84" fill="#443983"/>
<rect x="533.27" y="158.13" width="13.58" height="9.84" fill="#440154"/>
<rect x="545.86" y="158.13" width="13.58" height="9.84" fill="#35b779"/>
<rect x="558.44" y="158.13" width="13.58" height="9.84" fill="#440154"/>
<rect x="571.03" y="158.13" width="13.58" height="9.84" fill="#443983"/>
<rect x="583.61" y="158.13" width="13.58" height="9.84" fill="#440154"/>
<rect x="596.19" y="158.13" width="13.58" height="9.84" fill="#443983"/>
<rect x="608.78" y="158.13" width="13.58" height="9.84" fill="#440154"/>
<rect x="621.36" y="158.13" width="26.17" height="9.84" fill="#443983"/>
<rect x="646.53" y="158.13" width="13.58" height="9.84" fill="#440154"/>
<rect x="659.12" y="158.13" width="12.58" height="9.84" fill="#443983"/>
<rect x="432.60" y="166.97" width="13.58" height="9.84" fill="#440154"/>
<rect x="445.18" y="166.97" width="26.17" height="9.84" fill="#443983"/>
<rect x="470.35" y="166.97" width="38.75" height="9.84" fill="#440154"/>
<rect x="508.11" y="166.97" width="13.58" height="9.84" fill="#31688e"/>
<rect x="520.69" y="166.97" width="13.58" height="9.84" fill="#443983"/>
<rect x="533.27" y="166.97" width="26.17" height="9.84" fill="#31688e"/>
<rect x="558.44" y="166.97" width="26.17" height="9.84" fill="#443983"/>
<rect x="583.61" y="166.97" width="13.58" height="9.84" fill="#440154"/>
<rect x="596.19" y="166.97" width="13.58" height="9.84" fill="#443983"/>
<rect x="608.78" y="166.97" width="38.75" height="9.84" fill="#31688e"/>
<rect x="646.53" y="166.97" width="13.58" height="9.84" fill="#443983"/>
<rect x="659.12" y="166.97" width="12.58" height="9.84" fill="#440154"/>
<rect x="432.60" y="175.82" width="13.58" height="9.84" fill="#31688e"/>
<rect x="445.18" y="175.82" width="26.17" height="9.84" fill="#440154"/>
<rect x="470.35" y="175.82" width="38.75" height="9.84" fill="#443983"/>
<rect x="508.11" y="175.82" width="13.58" height="9.84" fill="#35b779"/>
<rect x="520.69" y="175.82" width="13.58" height="9.84" fill="#443983"/>
<rect x="533.27" y="175.82" width="13.58" height="9.84" fill="#440154"/>
<rect x="545.86" y="175.82" width="13.58" height="9.84" fill="#443983"/>
<rect x="558.44" y="175.82" width="13.58" height="9.84" fill="#21918c"/>
<rect x="571.03" y="175.82" width="51.34" height="9.84" fill="#443983"/>
<rect x="621.36" y="175.82" width="13.58" height="9.84" fill="#440154"/>
<rect x="633.95" y="175.82" width="13.58" height="9.84" fill="#31688e"/>
<rect x="646.53" y="175.82" width="25.17" height="9.84" fill="#443983"/>
<rect x="432.60" y="184.66" width="13.58" height="8.84" fill="#443983"/>
<rect x="445.18" y="184.66" width="13.58" height="8.84" fill="#31688e"/>
<rect x="457.77" y="184.66" width="13.58" height="8.84" fill="#440154"/>
<rect x="470.35" y="184.66" width="13.58" height="8.84" fill="#31688e"/>
<rect x="482.94" y="184.66" width="13.58" height="8.84" fill="#440154"/>
<rect x="495.52" y="184.66" width="13.58" height="8.84" fill="#35b779"/>
<rect x="508.11" y="184.66" width="13.58" height="8.84" fill="#440154"/>
<rect x="520.69" y="184.66" width="13.58" height="8.84" fill="#31688e"/>
<rect x="533.27" y="184.66" width="13.58" height="8.84" fill="#443983"/>
<rect x="545.86" y="184.66" width="13.58" height="8.84" fill="#440154"/>
<rect x="558.44" y="184.66" width="13.58" height="8.84" fill="#443983"/>
<rect x="571.03" y="184.66" width="13.58" height="8.84" fill="#440154"/>
<rect x="583.61" y="184.66" width="13.58" height="8.84" fill="#35b779"/>
<rect x="596.19" y="184.66" width="26.17" height="8.84" fill="#443983"/>
<rect x="621.36" y="184.66" width="13.58" height="8.84" fill="#440154"/>
<rect x="633.95" y="184.66" width="13.58" height="8.84" fill="#443983"/>
<rect x="646.53" y="184.66" width="25.17" height="8.84" fill="#440154"/>
<path d="M432.60 29.92h2.60M432.60 38.76h2.60M432.60 47.61h2.60M432.60 56.45h2.60M432.60 65.29h2.60M432.60 74.13h2.60M432.60 82.97h2.60M432.60 91.82h2.60M432.60 100.66h2.60M432.60 109.50h2.60M432.60 118.34h2.60M432.60 127.18h2.60M432.60 136.03h2.60M432.60 144.87h2.60M432.60 153.71h2.60M432.60 162.55h2.60M432.60 171.39h2.60M432.60 180.24h2.60M432.60 189.08h2.60M438.89 193.50v-2.60M451.48 193.50v-2.60M464.06 193.50v-2.60M476.64 193.50v-2.60M489.23 193.50v-2.60M501.81 193.50v-2.60M514.40 193.50v-2.60M526.98 193.50v-2.60M539.57 193.50v-2.60M552.15 193.50v-2.60M564.73 193.50v-2.60M577.32 193.50v-2.60M589.90 193.50v-2.60M602.49 193.50v-2.60M615.07 193.50v-2.60M627.66 193.50v-2.60M640.24 193.50v-2.60M652.82 193.50v-2.60M665.41 193.50v-2.60" stroke="#000" stroke-width="0.65" fill="none" opacity="0.90"/>
<text class="a" transform="translate(438.89 31.90) rotate(0.03)">2</text>
<text class="a" transform="translate(451.48 31.90) rotate(0.03)">1</text>
<text class="a" transform="translate(464.06 31.90) rotate(0.03)">2</text>
<text class="a" transform="translate(476.64 31.90) rotate(0.03)">1</text>
<text class="a" transform="translate(489.23 31.90) rotate(0.03)">0</text>
<text class="a" transform="translate(501.81 31.90) rotate(0.03)">1</text>
<text class="a" transform="translate(514.40 31.90) rotate(0.03)">3</text>
<text class="a" transform="translate(526.98 31.90) rotate(0.03)">0</text>
<text class="a" transform="translate(539.57 31.90) rotate(0.03)">2</text>
<text class="a" transform="translate(552.15 31.90) rotate(0.03)">0</text>
<text class="a" transform="translate(564.73 31.90) rotate(0.03)">2</text>
<text class="a" transform="translate(577.32 31.90) rotate(0.03)">0</text>
<text class="a" transform="translate(589.90 31.90) rotate(0.03)">1</text>
<text class="a" transform="translate(602.49 31.90) rotate(0.03)">1</text>
<text class="a" transform="translate(615.07 31.90) rotate(0.03)">1</text>
<text class="a" transform="translate(627.66 31.90) rotate(0.03)">1</text>
<text class="a" transform="translate(640.24 31.90) rotate(0.03)">4</text>
<text class="a" transform="translate(652.82 31.90) rotate(0.03)">1</text>
<text class="a" transform="translate(665.41 31.90) rotate(0.03)">0</text>
<text class="a" transform="translate(438.89 40.74) rotate(0.03)">2</text>
<text class="a" transform="translate(451.48 40.74) rotate(0.03)">0</text>
<text class="a" transform="translate(464.06 40.74) rotate(0.03)">0</text>
<text class="a" transform="translate(476.64 40.74) rotate(0.03)">2</text>
<text class="a" transform="translate(489.23 40.74) rotate(0.03)">4</text>
<text class="a" transform="translate(501.81 40.74) rotate(0.03)">2</text>
<text class="a" transform="translate(514.40 40.74) rotate(0.03)">2</text>
<text class="a" transform="translate(526.98 40.74) rotate(0.03)">0</text>
<text class="a" transform="translate(539.57 40.74) rotate(0.03)">0</text>
<text class="a" transform="translate(552.15 40.74) rotate(0.03)">0</text>
<text class="a" transform="translate(564.73 40.74) rotate(0.03)">0</text>
<text class="a" transform="translate(577.32 40.74) rotate(0.03)">1</text>
<text class="a" transform="translate(589.90 40.74) rotate(0.03)">1</text>
<text class="a" transform="translate(602.49 40.74) rotate(0.03)">1</text>
<text class="a" transform="translate(615.07 40.74) rotate(0.03)">3</text>
<text class="a" transform="translate(627.66 40.74) rotate(0.03)">4</text>
<text class="a" transform="translate(640.24 40.74) rotate(0.03)">1</text>
<text class="a" transform="translate(652.82 40.74) rotate(0.03)">4</text>
<text class="a" transform="translate(665.41 40.74) rotate(0.03)">2</text>
<text class="a" transform="translate(438.89 49.58) rotate(0.03)">1</text>
<text class="a" transform="translate(451.48 49.58) rotate(0.03)">2</text>
<text class="a" transform="translate(464.06 49.58) rotate(0.03)">1</text>
<text class="a" transform="translate(476.64 49.58) rotate(0.03)">0</text>
<text class="a" transform="translate(489.23 49.58) rotate(0.03)">1</text>
<text class="a" transform="translate(501.81 49.58) rotate(0.03)">2</text>
<text class="a" transform="translate(514.40 49.58) rotate(0.03)">0</text>
<text class="a" transform="translate(526.98 49.58) rotate(0.03)">0</text>
<text class="a" transform="translate(539.57 49.58) rotate(0.03)">2</text>
<text class="a" transform="translate(552.15 49.58) rotate(0.03)">4</text>
<text class="a" transform="translate(564.73 49.58) rotate(0.03)">0</text>
<text class="a" transform="translate(577.32 49.58) rotate(0.03)">2</text>
<text class="a" transform="translate(589.90 49.58) rotate(0.03)">0</text>
<text class="a" transform="translate(602.49 49.58) rotate(0.03)">0</text>
<text class="a" transform="translate(615.07 49.58) rotate(0.03)">1</text>
<text class="a" transform="translate(627.66 49.58) rotate(0.03)">1</text>
<text class="a" transform="translate(640.24 49.58) rotate(0.03)">2</text>
<text class="a" transform="translate(652.82 49.58) rotate(0.03)">0</text>
<text class="a" transform="translate(665.41 49.58) rotate(0.03)">0</text>
<text class="a" transform="translate(438.89 58.43) rotate(0.03)">1</text>
<text class="a" transform="translate(451.48 58.43) rotate(0.03)">1</text>
<text class="a" transform="translate(464.06 58.43) rotate(0.03)">0</text>
<text class="a" transform="translate(476.64 58.43) rotate(0.03)">2</text>
<text class="a" transform="translate(489.23 58.43) rotate(0.03)">0</text>
<text class="a" transform="translate(501.81 58.43) rotate(0.03)">1</text>
<text class="a" transform="translate(514.40 58.43) rotate(0.03)">1</text>
<text class="a" transform="translate(526.98 58.43) rotate(0.03)">0</text>
<text class="a" transform="translate(539.57 58.43) rotate(0.03)">1</text>
<text class="a" transform="translate(552.15 58.43) rotate(0.03)">0</text>
<text class="a" transform="translate(564.73 58.43) rotate(0.03)">2</text>
<text class="a" transform="translate(577.32 58.43) rotate(0.03)">1</text>
<text class="a" transform="translate(589.90 58.43) rotate(0.03)">1</text>
<text class="a" transform="translate(602.49 58.43) rotate(0.03)">0</text>
<text class="a" transform="translate(615.07 58.43) rotate(0.03)">1</text>
<text class="a" transform="translate(627.66 58.43) rotate(0.03)">1</text>
<text class="a" transform="translate(640.24 58.43) rotate(0.03)">2</text>
<text class="a" transform="translate(652.82 58.43) rotate(0.03)">1</text>
<text class="a" transform="translate(665.41 58.43) rotate(0.03)">2</text>
<text class="a" transform="translate(438.89 67.27) rotate(0.03)">2</text>
<text class="a" transform="translate(451.48 67.27) rotate(0.03)">1</text>
<text class="a" transform="translate(464.06 67.27) rotate(0.03)">0</text>
<text class="a" transform="translate(476.64 67.27) rotate(0.03)">0</text>
<text class="a" transform="translate(489.23 67.27) rotate(0.03)">1</text>
<text class="a" transform="translate(501.81 67.27) rotate(0.03)">1</text>
<text class="a" transform="translate(514.40 67.27) rotate(0.03)">2</text>
<text class="a" transform="translate(526.98 67.27) rotate(0.03)">3</text>
<text class="a" transform="translate(539.57 67.27) rotate(0.03)">0</text>
<text class="a" transform="translate(552.15 67.27) rotate(0.03)">0</text>
<text class="a" transform="translate(564.73 67.27) rotate(0.03)">0</text>
<text class="a" transform="translate(577.32 67.27) rotate(0.03)">0</text>
<text class="a" transform="translate(589.90 67.27) rotate(0.03)">1</text>
<text class="a" transform="translate(602.49 67.27) rotate(0.03)">1</text>
<text class="a" transform="translate(615.07 67.27) rotate(0.03)">0</text>
<text class="a" transform="translate(627.66 67.27) rotate(0.03)">1</text>
<text class="a" transform="translate(640.24 67.27) rotate(0.03)">0</text>
<text class="a" transform="translate(652.82 67.27) rotate(0.03)">1</text>
<text class="a" transform="translate(665.41 67.27) rotate(0.03)">1</text>
<text class="a" transform="translate(438.89 76.11) rotate(0.03)">0</text>
<text class="a" transform="translate(451.48 76.11) rotate(0.03)">0</text>
<text class="a" transform="translate(464.06 76.11) rotate(0.03)">0</text>
<text class="a" transform="translate(476.64 76.11) rotate(0.03)">1</text>
<text class="a" transform="translate(489.23 76.11) rotate(0.03)">1</text>
<text class="a" transform="translate(501.81 76.11) rotate(0.03)">0</text>
<text class="a" transform="translate(514.40 76.11) rotate(0.03)">1</text>
<text class="a" transform="translate(526.98 76.11) rotate(0.03)">2</text>
<text class="a" transform="translate(539.57 76.11) rotate(0.03)">2</text>
<text class="a" transform="translate(552.15 76.11) rotate(0.03)">1</text>
<text class="a" transform="translate(564.73 76.11) rotate(0.03)">1</text>
<text class="a" transform="translate(577.32 76.11) rotate(0.03)">1</text>
<text class="a" transform="translate(589.90 76.11) rotate(0.03)">0</text>
<text class="a" transform="translate(602.49 76.11) rotate(0.03)">2</text>
<text class="a" transform="translate(615.07 76.11) rotate(0.03)">2</text>
<text class="a" transform="translate(627.66 76.11) rotate(0.03)">2</text>
<text class="a" transform="translate(640.24 76.11) rotate(0.03)">2</text>
<text class="a" transform="translate(652.82 76.11) rotate(0.03)">0</text>
<text class="a" transform="translate(665.41 76.11) rotate(0.03)">2</text>
<text class="a" transform="translate(438.89 84.95) rotate(0.03)">2</text>
<text class="a" transform="translate(451.48 84.95) rotate(0.03)">0</text>
<text class="a" transform="translate(464.06 84.95) rotate(0.03)">0</text>
<text class="a" transform="translate(476.64 84.95) rotate(0.03)">0</text>
<text class="a" transform="translate(489.23 84.95) rotate(0.03)">1</text>
<text class="a" transform="translate(501.81 84.95) rotate(0.03)">0</text>
<text class="a" transform="translate(514.40 84.95) rotate(0.03)">2</text>
<text class="a" transform="translate(526.98 84.95) rotate(0.03)">2</text>
<text class="a" transform="translate(539.57 84.95) rotate(0.03)">1</text>
<text class="a" transform="translate(552.15 84.95) rotate(0.03)">1</text>
<text class="a" transform="translate(564.73 84.95) rotate(0.03)">0</text>
<text class="a" transform="translate(577.32 84.95) rotate(0.03)">1</text>
<text class="a" transform="translate(589.90 84.95) rotate(0.03)">0</text>
<text class="a" transform="translate(602.49 84.95) rotate(0.03)">3</text>
<text class="a" transform="translate(615.07 84.95) rotate(0.03)">2</text>
<text class="a" transform="translate(627.66 84.95) rotate(0.03)">2</text>
<text class="a" transform="translate(640.24 84.95) rotate(0.03)">1</text>
<text class="a" transform="translate(652.82 84.95) rotate(0.03)">1</text>
<text class="a" transform="translate(665.41 84.95) rotate(0.03)">0</text>
<text class="a" transform="translate(438.89 93.79) rotate(0.03)">2</text>
<text class="a" transform="translate(451.48 93.79) rotate(0.03)">0</text>
<text class="a" transform="translate(464.06 93.79) rotate(0.03)">0</text>
<text class="a" transform="translate(476.64 93.79) rotate(0.03)">2</text>
<text class="a" transform="translate(489.23 93.79) rotate(0.03)">1</text>
<text class="a" transform="translate(501.81 93.79) rotate(0.03)">1</text>
<text class="a" transform="translate(514.40 93.79) rotate(0.03)">1</text>
<text class="a" transform="translate(526.98 93.79) rotate(0.03)">0</text>
<text class="a" transform="translate(539.57 93.79) rotate(0.03)">1</text>
<text class="a" transform="translate(552.15 93.79) rotate(0.03)">1</text>
<text class="a" transform="translate(564.73 93.79) rotate(0.03)">4</text>
<text class="a" transform="translate(577.32 93.79) rotate(0.03)">0</text>
<text class="a" transform="translate(589.90 93.79) rotate(0.03)">1</text>
<text class="a" transform="translate(602.49 93.79) rotate(0.03)">0</text>
<text class="a" transform="translate(615.07 93.79) rotate(0.03)">1</text>
<text class="a" transform="translate(627.66 93.79) rotate(0.03)">1</text>
<text class="a" transform="translate(640.24 93.79) rotate(0.03)">0</text>
<text class="a" transform="translate(652.82 93.79) rotate(0.03)">2</text>
<text class="a" transform="translate(665.41 93.79) rotate(0.03)">0</text>
<text class="a" transform="translate(438.89 102.64) rotate(0.03)">2</text>
<text class="a" transform="translate(451.48 102.64) rotate(0.03)">0</text>
<text class="a" transform="translate(464.06 102.64) rotate(0.03)">1</text>
<text class="a" transform="translate(476.64 102.64) rotate(0.03)">0</text>
<text class="a" transform="translate(489.23 102.64) rotate(0.03)">1</text>
<text class="a" transform="translate(501.81 102.64) rotate(0.03)">0</text>
<text class="a" transform="translate(514.40 102.64) rotate(0.03)">0</text>
<text class="a" transform="translate(526.98 102.64) rotate(0.03)">3</text>
<text class="a" transform="translate(539.57 102.64) rotate(0.03)">0</text>
<text class="a" transform="translate(552.15 102.64) rotate(0.03)">3</text>
<text class="a" transform="translate(564.73 102.64) rotate(0.03)">3</text>
<text class="a" transform="translate(577.32 102.64) rotate(0.03)">2</text>
<text class="a" transform="translate(589.90 102.64) rotate(0.03)">1</text>
<text class="a" transform="translate(602.49 102.64) rotate(0.03)">0</text>
<text class="a" transform="translate(615.07 102.64) rotate(0.03)">1</text>
<text class="a" transform="translate(627.66 102.64) rotate(0.03)">1</text>
<text class="a" transform="translate(640.24 102.64) rotate(0.03)">0</text>
<text class="a" transform="translate(652.82 102.64) rotate(0.03)">0</text>
<text class="a" transform="translate(665.41 102.64) rotate(0.03)">0</text>
<text class="a" transform="translate(438.89 111.48) rotate(0.03)">2</text>
<text class="a" transform="translate(451.48 111.48) rotate(0.03)">0</text>
<text class="a" transform="translate(464.06 111.48) rotate(0.03)">0</text>
<text class="a" transform="translate(476.64 111.48) rotate(0.03)">0</text>
<text class="a" transform="translate(489.23 111.48) rotate(0.03)">0</text>
<text class="a" transform="translate(501.81 111.48) rotate(0.03)">2</text>
<text class="a" transform="translate(514.40 111.48) rotate(0.03)">1</text>
<text class="a" transform="translate(526.98 111.48) rotate(0.03)">2</text>
<text class="a" transform="translate(539.57 111.48) rotate(0.03)">1</text>
<text class="a" transform="translate(552.15 111.48) rotate(0.03)">1</text>
<text class="a" transform="translate(564.73 111.48) rotate(0.03)">0</text>
<text class="a" transform="translate(577.32 111.48) rotate(0.03)">3</text>
<text class="a" transform="translate(589.90 111.48) rotate(0.03)">4</text>
<text class="a" transform="translate(602.49 111.48) rotate(0.03)">0</text>
<text class="a" transform="translate(615.07 111.48) rotate(0.03)">2</text>
<text class="a" transform="translate(627.66 111.48) rotate(0.03)">1</text>
<text class="a" transform="translate(640.24 111.48) rotate(0.03)">3</text>
<text class="a d" transform="translate(652.82 111.48) rotate(0.03)">6</text>
<text class="a" transform="translate(665.41 111.48) rotate(0.03)">1</text>
<text class="a" transform="translate(438.89 120.32) rotate(0.03)">4</text>
<text class="a" transform="translate(451.48 120.32) rotate(0.03)">0</text>
<text class="a" transform="translate(464.06 120.32) rotate(0.03)">1</text>
<text class="a" transform="translate(476.64 120.32) rotate(0.03)">3</text>
<text class="a" transform="translate(489.23 120.32) rotate(0.03)">0</text>
<text class="a" transform="translate(501.81 120.32) rotate(0.03)">2</text>
<text class="a" transform="translate(514.40 120.32) rotate(0.03)">1</text>
<text class="a" transform="translate(526.98 120.32) rotate(0.03)">1</text>
<text class="a" transform="translate(539.57 120.32) rotate(0.03)">0</text>
<text class="a" transform="translate(552.15 120.32) rotate(0.03)">0</text>
<text class="a" transform="translate(564.73 120.32) rotate(0.03)">2</text>
<text class="a" transform="translate(577.32 120.32) rotate(0.03)">2</text>
<text class="a" transform="translate(589.90 120.32) rotate(0.03)">1</text>
<text class="a" transform="translate(602.49 120.32) rotate(0.03)">1</text>
<text class="a" transform="translate(615.07 120.32) rotate(0.03)">1</text>
<text class="a" transform="translate(627.66 120.32) rotate(0.03)">4</text>
<text class="a" transform="translate(640.24 120.32) rotate(0.03)">2</text>
<text class="a" transform="translate(652.82 120.32) rotate(0.03)">1</text>
<text class="a" transform="translate(665.41 120.32) rotate(0.03)">1</text>
<text class="a" transform="translate(438.89 129.16) rotate(0.03)">0</text>
<text class="a" transform="translate(451.48 129.16) rotate(0.03)">0</text>
<text class="a" transform="translate(464.06 129.16) rotate(0.03)">1</text>
<text class="a" transform="translate(476.64 129.16) rotate(0.03)">1</text>
<text class="a" transform="translate(489.23 129.16) rotate(0.03)">4</text>
<text class="a" transform="translate(501.81 129.16) rotate(0.03)">0</text>
<text class="a" transform="translate(514.40 129.16) rotate(0.03)">0</text>
<text class="a" transform="translate(526.98 129.16) rotate(0.03)">1</text>
<text class="a" transform="translate(539.57 129.16) rotate(0.03)">2</text>
<text class="a" transform="translate(552.15 129.16) rotate(0.03)">1</text>
<text class="a" transform="translate(564.73 129.16) rotate(0.03)">1</text>
<text class="a" transform="translate(577.32 129.16) rotate(0.03)">3</text>
<text class="a" transform="translate(589.90 129.16) rotate(0.03)">0</text>
<text class="a" transform="translate(602.49 129.16) rotate(0.03)">0</text>
<text class="a" transform="translate(615.07 129.16) rotate(0.03)">2</text>
<text class="a" transform="translate(627.66 129.16) rotate(0.03)">4</text>
<text class="a" transform="translate(640.24 129.16) rotate(0.03)">2</text>
<text class="a" transform="translate(652.82 129.16) rotate(0.03)">1</text>
<text class="a" transform="translate(665.41 129.16) rotate(0.03)">0</text>
<text class="a" transform="translate(438.89 138.00) rotate(0.03)">1</text>
<text class="a" transform="translate(451.48 138.00) rotate(0.03)">2</text>
<text class="a" transform="translate(464.06 138.00) rotate(0.03)">1</text>
<text class="a" transform="translate(476.64 138.00) rotate(0.03)">0</text>
<text class="a" transform="translate(489.23 138.00) rotate(0.03)">2</text>
<text class="a" transform="translate(501.81 138.00) rotate(0.03)">1</text>
<text class="a" transform="translate(514.40 138.00) rotate(0.03)">1</text>
<text class="a" transform="translate(526.98 138.00) rotate(0.03)">0</text>
<text class="a" transform="translate(539.57 138.00) rotate(0.03)">1</text>
<text class="a" transform="translate(552.15 138.00) rotate(0.03)">0</text>
<text class="a" transform="translate(564.73 138.00) rotate(0.03)">0</text>
<text class="a" transform="translate(577.32 138.00) rotate(0.03)">2</text>
<text class="a" transform="translate(589.90 138.00) rotate(0.03)">0</text>
<text class="a" transform="translate(602.49 138.00) rotate(0.03)">3</text>
<text class="a" transform="translate(615.07 138.00) rotate(0.03)">0</text>
<text class="a" transform="translate(627.66 138.00) rotate(0.03)">3</text>
<text class="a" transform="translate(640.24 138.00) rotate(0.03)">4</text>
<text class="a" transform="translate(652.82 138.00) rotate(0.03)">1</text>
<text class="a" transform="translate(665.41 138.00) rotate(0.03)">0</text>
<text class="a" transform="translate(438.89 146.85) rotate(0.03)">2</text>
<text class="a" transform="translate(451.48 146.85) rotate(0.03)">0</text>
<text class="a" transform="translate(464.06 146.85) rotate(0.03)">1</text>
<text class="a" transform="translate(476.64 146.85) rotate(0.03)">0</text>
<text class="a" transform="translate(489.23 146.85) rotate(0.03)">2</text>
<text class="a" transform="translate(501.81 146.85) rotate(0.03)">0</text>
<text class="a" transform="translate(514.40 146.85) rotate(0.03)">0</text>
<text class="a" transform="translate(526.98 146.85) rotate(0.03)">1</text>
<text class="a" transform="translate(539.57 146.85) rotate(0.03)">1</text>
<text class="a" transform="translate(552.15 146.85) rotate(0.03)">0</text>
<text class="a" transform="translate(564.73 146.85) rotate(0.03)">3</text>
<text class="a" transform="translate(577.32 146.85) rotate(0.03)">1</text>
<text class="a" transform="translate(589.90 146.85) rotate(0.03)">0</text>
<text class="a" transform="translate(602.49 146.85) rotate(0.03)">1</text>
<text class="a" transform="translate(615.07 146.85) rotate(0.03)">0</text>
<text class="a" transform="translate(627.66 146.85) rotate(0.03)">2</text>
<text class="a" transform="translate(640.24 146.85) rotate(0.03)">1</text>
<text class="a" transform="translate(652.82 146.85) rotate(0.03)">1</text>
<text class="a" transform="translate(665.41 146.85) rotate(0.03)">0</text>
<text class="a" transform="translate(438.89 155.69) rotate(0.03)">1</text>
<text class="a" transform="translate(451.48 155.69) rotate(0.03)">2</text>
<text class="a" transform="translate(464.06 155.69) rotate(0.03)">3</text>
<text class="a" transform="translate(476.64 155.69) rotate(0.03)">4</text>
<text class="a" transform="translate(489.23 155.69) rotate(0.03)">1</text>
<text class="a" transform="translate(501.81 155.69) rotate(0.03)">1</text>
<text class="a" transform="translate(514.40 155.69) rotate(0.03)">0</text>
<text class="a" transform="translate(526.98 155.69) rotate(0.03)">2</text>
<text class="a" transform="translate(539.57 155.69) rotate(0.03)">0</text>
<text class="a" transform="translate(552.15 155.69) rotate(0.03)">2</text>
<text class="a" transform="translate(564.73 155.69) rotate(0.03)">0</text>
<text class="a" transform="translate(577.32 155.69) rotate(0.03)">2</text>
<text class="a" transform="translate(589.90 155.69) rotate(0.03)">0</text>
<text class="a" transform="translate(602.49 155.69) rotate(0.03)">2</text>
<text class="a" transform="translate(615.07 155.69) rotate(0.03)">2</text>
<text class="a" transform="translate(627.66 155.69) rotate(0.03)">2</text>
<text class="a" transform="translate(640.24 155.69) rotate(0.03)">2</text>
<text class="a" transform="translate(652.82 155.69) rotate(0.03)">0</text>
<text class="a" transform="translate(665.41 155.69) rotate(0.03)">3</text>
<text class="a" transform="translate(438.89 164.53) rotate(0.03)">1</text>
<text class="a" transform="translate(451.48 164.53) rotate(0.03)">0</text>
<text class="a" transform="translate(464.06 164.53) rotate(0.03)">0</text>
<text class="a" transform="translate(476.64 164.53) rotate(0.03)">1</text>
<text class="a" transform="translate(489.23 164.53) rotate(0.03)">0</text>
<text class="a" transform="translate(501.81 164.53) rotate(0.03)">0</text>
<text class="a" transform="translate(514.40 164.53) rotate(0.03)">2</text>
<text class="a" transform="translate(526.98 164.53) rotate(0.03)">1</text>
<text class="a" transform="translate(539.57 164.53) rotate(0.03)">0</text>
<text class="a" transform="translate(552.15 164.53) rotate(0.03)">4</text>
<text class="a" transform="translate(564.73 164.53) rotate(0.03)">0</text>
<text class="a" transform="translate(577.32 164.53) rotate(0.03)">1</text>
<text class="a" transform="translate(589.90 164.53) rotate(0.03)">0</text>
<text class="a" transform="translate(602.49 164.53) rotate(0.03)">1</text>
<text class="a" transform="translate(615.07 164.53) rotate(0.03)">0</text>
<text class="a" transform="translate(627.66 164.53) rotate(0.03)">1</text>
<text class="a" transform="translate(640.24 164.53) rotate(0.03)">1</text>
<text class="a" transform="translate(652.82 164.53) rotate(0.03)">0</text>
<text class="a" transform="translate(665.41 164.53) rotate(0.03)">1</text>
<text class="a" transform="translate(438.89 173.37) rotate(0.03)">0</text>
<text class="a" transform="translate(451.48 173.37) rotate(0.03)">1</text>
<text class="a" transform="translate(464.06 173.37) rotate(0.03)">1</text>
<text class="a" transform="translate(476.64 173.37) rotate(0.03)">0</text>
<text class="a" transform="translate(489.23 173.37) rotate(0.03)">0</text>
<text class="a" transform="translate(501.81 173.37) rotate(0.03)">0</text>
<text class="a" transform="translate(514.40 173.37) rotate(0.03)">2</text>
<text class="a" transform="translate(526.98 173.37) rotate(0.03)">1</text>
<text class="a" transform="translate(539.57 173.37) rotate(0.03)">2</text>
<text class="a" transform="translate(552.15 173.37) rotate(0.03)">2</text>
<text class="a" transform="translate(564.73 173.37) rotate(0.03)">1</text>
<text class="a" transform="translate(577.32 173.37) rotate(0.03)">1</text>
<text class="a" transform="translate(589.90 173.37) rotate(0.03)">0</text>
<text class="a" transform="translate(602.49 173.37) rotate(0.03)">1</text>
<text class="a" transform="translate(615.07 173.37) rotate(0.03)">2</text>
<text class="a" transform="translate(627.66 173.37) rotate(0.03)">2</text>
<text class="a" transform="translate(640.24 173.37) rotate(0.03)">2</text>
<text class="a" transform="translate(652.82 173.37) rotate(0.03)">1</text>
<text class="a" transform="translate(665.41 173.37) rotate(0.03)">0</text>
<text class="a" transform="translate(438.89 182.22) rotate(0.03)">2</text>
<text class="a" transform="translate(451.48 182.22) rotate(0.03)">0</text>
<text class="a" transform="translate(464.06 182.22) rotate(0.03)">0</text>
<text class="a" transform="translate(476.64 182.22) rotate(0.03)">1</text>
<text class="a" transform="translate(489.23 182.22) rotate(0.03)">1</text>
<text class="a" transform="translate(501.81 182.22) rotate(0.03)">1</text>
<text class="a" transform="translate(514.40 182.22) rotate(0.03)">4</text>
<text class="a" transform="translate(526.98 182.22) rotate(0.03)">1</text>
<text class="a" transform="translate(539.57 182.22) rotate(0.03)">0</text>
<text class="a" transform="translate(552.15 182.22) rotate(0.03)">1</text>
<text class="a" transform="translate(564.73 182.22) rotate(0.03)">3</text>
<text class="a" transform="translate(577.32 182.22) rotate(0.03)">1</text>
<text class="a" transform="translate(589.90 182.22) rotate(0.03)">1</text>
<text class="a" transform="translate(602.49 182.22) rotate(0.03)">1</text>
<text class="a" transform="translate(615.07 182.22) rotate(0.03)">1</text>
<text class="a" transform="translate(627.66 182.22) rotate(0.03)">0</text>
<text class="a" transform="translate(640.24 182.22) rotate(0.03)">2</text>
<text class="a" transform="translate(652.82 182.22) rotate(0.03)">1</text>
<text class="a" transform="translate(665.41 182.22) rotate(0.03)">1</text>
<text class="a" transform="translate(438.89 191.06) rotate(0.03)">1</text>
<text class="a" transform="translate(451.48 191.06) rotate(0.03)">2</text>
<text class="a" transform="translate(464.06 191.06) rotate(0.03)">0</text>
<text class="a" transform="translate(476.64 191.06) rotate(0.03)">2</text>
<text class="a" transform="translate(489.23 191.06) rotate(0.03)">0</text>
<text class="a" transform="translate(501.81 191.06) rotate(0.03)">4</text>
<text class="a" transform="translate(514.40 191.06) rotate(0.03)">0</text>
<text class="a" transform="translate(526.98 191.06) rotate(0.03)">2</text>
<text class="a" transform="translate(539.57 191.06) rotate(0.03)">1</text>
<text class="a" transform="translate(552.15 191.06) rotate(0.03)">0</text>
<text class="a" transform="translate(564.73 191.06) rotate(0.03)">1</text>
<text class="a" transform="translate(577.32 191.06) rotate(0.03)">0</text>
<text class="a" transform="translate(589.90 191.06) rotate(0.03)">4</text>
<text class="a" transform="translate(602.49 191.06) rotate(0.03)">1</text>
<text class="a" transform="translate(615.07 191.06) rotate(0.03)">1</text>
<text class="a" transform="translate(627.66 191.06) rotate(0.03)">0</text>
<text class="a" transform="translate(640.24 191.06) rotate(0.03)">1</text>
<text class="a" transform="translate(652.82 191.06) rotate(0.03)">0</text>
<text class="a" transform="translate(665.41 191.06) rotate(0.03)">0</text>
<text class="k y" transform="translate(430.90 32.92) rotate(0.03)">(59.941, 63.105]</text>
<text class="k y" transform="translate(430.90 41.76) rotate(0.03)">(63.105, 66.211]</text>
<text class="k y" transform="translate(430.90 50.61) rotate(0.03)">(66.211, 69.316]</text>
<text class="k y" transform="translate(430.90 59.45) rotate(0.03)">(69.316, 72.421]</text>
<text class="k y" transform="translate(430.90 68.29) rotate(0.03)">(72.421, 75.526]</text>
<text class="k y" transform="translate(430.90 77.13) rotate(0.03)">(75.526, 78.632]</text>
<text class="k y" transform="translate(430.90 85.97) rotate(0.03)">(78.632, 81.737]</text>
<text class="k y" transform="translate(430.90 94.82) rotate(0.03)">(81.737, 84.842]</text>
<text class="k y" transform="translate(430.90 103.66) rotate(0.03)">(84.842, 87.947]</text>
<text class="k y" transform="translate(430.90 112.50) rotate(0.03)">(87.947, 91.053]</text>
<text class="k y" transform="translate(430.90 121.34) rotate(0.03)">(91.053, 94.158]</text>
<text class="k y" transform="translate(430.90 130.18) rotate(0.03)">(94.158, 97.263]</text>
<text class="k y" transform="translate(430.90 139.03) rotate(0.03)">(97.263, 100.368]</text>
<text class="k y" transform="translate(430.90 147.87) rotate(0.03)">(100.368, 103.474]</text>
<text class="k y" transform="translate(430.90 156.71) rotate(0.03)">(103.474, 106.579]</text>
<text class="k y" transform="translate(430.90 165.55) rotate(0.03)">(106.579, 109.684]</text>
<text class="k y" transform="translate(430.90 174.39) rotate(0.03)">(109.684, 112.789]</text>
<text class="k y" transform="translate(430.90 183.24) rotate(0.03)">(112.789, 115.895]</text>
<text class="k y" transform="translate(430.90 192.08) rotate(0.03)">(115.895, 119.0]</text>
<text class="k y x" transform="translate(440.94 196.00) rotate(-89.97)">(14.981, 16.0]</text>
<text class="k y x" transform="translate(453.52 196.00) rotate(-89.97)">(16.0, 17.0]</text>
<text class="k y x" transform="translate(466.11 196.00) rotate(-89.97)">(17.0, 18.0]</text>
<text class="k y x" transform="translate(478.69 196.00) rotate(-89.97)">(18.0, 19.0]</text>
<text class="k y x" transform="translate(491.28 196.00) rotate(-89.97)">(19.0, 20.0]</text>
<text class="k y x" transform="translate(503.86 196.00) rotate(-89.97)">(20.0, 21.0]</text>
<text class="k y x" transform="translate(516.44 196.00) rotate(-89.97)">(21.0, 22.0]</text>
<text class="k y x" transform="translate(529.03 196.00) rotate(-89.97)">(22.0, 23.0]</text>
<text class="k y x" transform="translate(541.61 196.00) rotate(-89.97)">(23.0, 24.0]</text>
<text class="k y x" transform="translate(554.20 196.00) rotate(-89.97)">(24.0, 25.0]</text>
<text class="k y x" transform="translate(566.78 196.00) rotate(-89.97)">(25.0, 26.0]</text>
<text class="k y x" transform="translate(579.36 196.00) rotate(-89.97)">(26.0, 27.0]</text>
<text class="k y x" transform="translate(591.95 196.00) rotate(-89.97)">(27.0, 28.0]</text>
<text class="k y x" transform="translate(604.53 196.00) rotate(-89.97)">(28.0, 29.0]</text>
<text class="k y x" transform="translate(617.12 196.00) rotate(-89.97)">(29.0, 30.0]</text>
<text class="k y x" transform="translate(629.70 196.00) rotate(-89.97)">(30.0, 31.0]</text>
<text class="k y x" transform="translate(642.29 196.00) rotate(-89.97)">(31.0, 32.0]</text>
<text class="k y x" transform="translate(654.87 196.00) rotate(-89.97)">(32.0, 33.0]</text>
<text class="k y x" transform="translate(667.45 196.00) rotate(-89.97)">(33.0, 34.0]</text>
<text class="l" transform="translate(552.15 263.60) rotate(0.03)">Age</text>
<text class="l bp" transform="translate(346.50 109.50) rotate(-89.97)">Blood Pressure</text>
<text class="c" transform="translate(508.20 281.30) rotate(0.03)">(b)</text>
</g>
</svg></body></html>
